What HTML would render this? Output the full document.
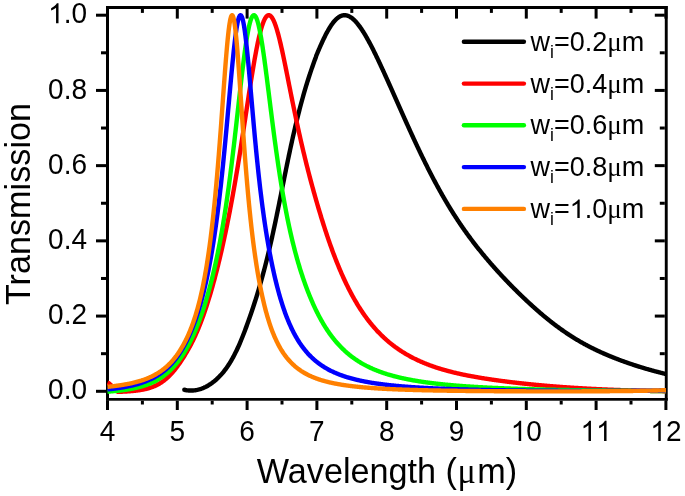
<!DOCTYPE html>
<html><head><meta charset="utf-8"><style>
html,body{margin:0;padding:0;background:#fff;}
svg{display:block;font-family:"Liberation Sans",sans-serif;will-change:transform;}
</style></head><body>
<svg width="685" height="496" viewBox="0 0 685 496">
<rect width="685" height="496" fill="#fff"/>
<defs><clipPath id="c"><rect x="107" y="9" width="559.5" height="389"/></clipPath></defs>
<g fill="#000">
<rect x="106.00" y="6.00" width="3.00" height="394.70"/><rect x="664.80" y="6.00" width="2.90" height="394.70"/><rect x="106.00" y="6.00" width="561.70" height="3.00"/><rect x="106.00" y="398.00" width="561.70" height="2.70"/>
<rect x="106.00" y="400.70" width="3.00" height="9.30"/><rect x="106.00" y="9.00" width="3.00" height="9.60"/><rect x="140.90" y="400.70" width="3.00" height="3.80"/><rect x="140.90" y="9.00" width="3.00" height="3.90"/><rect x="175.80" y="400.70" width="3.00" height="9.30"/><rect x="175.80" y="9.00" width="3.00" height="9.60"/><rect x="210.70" y="400.70" width="3.00" height="3.80"/><rect x="210.70" y="9.00" width="3.00" height="3.90"/><rect x="245.60" y="400.70" width="3.00" height="9.30"/><rect x="245.60" y="9.00" width="3.00" height="9.60"/><rect x="280.50" y="400.70" width="3.00" height="3.80"/><rect x="280.50" y="9.00" width="3.00" height="3.90"/><rect x="315.40" y="400.70" width="3.00" height="9.30"/><rect x="315.40" y="9.00" width="3.00" height="9.60"/><rect x="350.30" y="400.70" width="3.00" height="3.80"/><rect x="350.30" y="9.00" width="3.00" height="3.90"/><rect x="385.20" y="400.70" width="3.00" height="9.30"/><rect x="385.20" y="9.00" width="3.00" height="9.60"/><rect x="420.10" y="400.70" width="3.00" height="3.80"/><rect x="420.10" y="9.00" width="3.00" height="3.90"/><rect x="455.00" y="400.70" width="3.00" height="9.30"/><rect x="455.00" y="9.00" width="3.00" height="9.60"/><rect x="489.90" y="400.70" width="3.00" height="3.80"/><rect x="489.90" y="9.00" width="3.00" height="3.90"/><rect x="524.80" y="400.70" width="3.00" height="9.30"/><rect x="524.80" y="9.00" width="3.00" height="9.60"/><rect x="559.70" y="400.70" width="3.00" height="3.80"/><rect x="559.70" y="9.00" width="3.00" height="3.90"/><rect x="594.60" y="400.70" width="3.00" height="9.30"/><rect x="594.60" y="9.00" width="3.00" height="9.60"/><rect x="629.50" y="400.70" width="3.00" height="3.80"/><rect x="629.50" y="9.00" width="3.00" height="3.90"/><rect x="664.40" y="400.70" width="3.00" height="9.30"/><rect x="664.40" y="9.00" width="3.00" height="9.60"/><rect x="96.00" y="389.80" width="10.00" height="3.00"/><rect x="654.80" y="389.80" width="10.00" height="3.00"/><rect x="101.00" y="352.19" width="5.00" height="3.00"/><rect x="659.80" y="352.19" width="5.00" height="3.00"/><rect x="96.00" y="314.58" width="10.00" height="3.00"/><rect x="654.80" y="314.58" width="10.00" height="3.00"/><rect x="101.00" y="276.97" width="5.00" height="3.00"/><rect x="659.80" y="276.97" width="5.00" height="3.00"/><rect x="96.00" y="239.36" width="10.00" height="3.00"/><rect x="654.80" y="239.36" width="10.00" height="3.00"/><rect x="101.00" y="201.75" width="5.00" height="3.00"/><rect x="659.80" y="201.75" width="5.00" height="3.00"/><rect x="96.00" y="164.14" width="10.00" height="3.00"/><rect x="654.80" y="164.14" width="10.00" height="3.00"/><rect x="101.00" y="126.53" width="5.00" height="3.00"/><rect x="659.80" y="126.53" width="5.00" height="3.00"/><rect x="96.00" y="88.92" width="10.00" height="3.00"/><rect x="654.80" y="88.92" width="10.00" height="3.00"/><rect x="101.00" y="51.31" width="5.00" height="3.00"/><rect x="659.80" y="51.31" width="5.00" height="3.00"/><rect x="96.00" y="13.70" width="10.00" height="3.00"/><rect x="654.80" y="13.70" width="10.00" height="3.00"/>
</g>
<g clip-path="url(#c)"><path fill="none" stroke="#000000" stroke-width="4.4" stroke-linejoin="round" stroke-linecap="butt" d="M184.32,389.80 L185.45,390.03 L186.57,390.20 L187.67,390.34 L188.77,390.44 L189.85,390.50 L190.92,390.52 L191.98,390.50 L193.03,390.45 L194.06,390.36 L195.09,390.24 L196.10,390.08 L197.10,389.89 L198.09,389.67 L199.07,389.42 L200.04,389.14 L200.99,388.84 L201.94,388.50 L202.87,388.14 L203.79,387.76 L204.70,387.34 L205.60,386.91 L206.48,386.45 L207.36,385.98 L208.22,385.48 L209.07,384.96 L209.91,384.42 L210.74,383.87 L211.56,383.30 L212.36,382.71 L213.15,382.11 L213.94,381.50 L214.71,380.87 L215.47,380.23 L216.22,379.57 L216.96,378.90 L217.69,378.22 L218.41,377.52 L219.11,376.81 L219.81,376.09 L220.50,375.36 L221.18,374.61 L221.85,373.86 L222.51,373.09 L223.16,372.31 L223.80,371.52 L224.43,370.72 L225.05,369.91 L225.67,369.08 L226.27,368.25 L226.87,367.41 L227.46,366.56 L228.04,365.70 L228.61,364.84 L229.18,363.96 L229.73,363.07 L230.28,362.18 L230.83,361.28 L231.36,360.37 L231.89,359.46 L232.41,358.53 L232.92,357.61 L233.43,356.67 L233.93,355.73 L234.43,354.78 L234.91,353.83 L235.40,352.87 L235.87,351.90 L236.34,350.93 L236.81,349.96 L237.27,348.98 L237.72,348.00 L238.17,347.01 L238.61,346.03 L239.05,345.03 L239.49,344.04 L239.92,343.04 L240.34,342.03 L240.76,341.03 L241.18,340.02 L241.59,339.02 L242.00,338.01 L242.41,337.00 L242.81,335.98 L243.20,334.97 L243.60,333.96 L243.99,332.95 L244.38,331.93 L244.77,330.92 L245.15,329.91 L245.53,328.89 L245.91,327.88 L246.28,326.87 L246.66,325.86 L247.03,324.85 L247.40,323.84 L247.76,322.84 L248.12,321.83 L248.49,320.82 L248.84,319.82 L249.20,318.81 L249.55,317.81 L249.91,316.80 L250.25,315.80 L250.60,314.79 L250.95,313.79 L251.29,312.79 L251.63,311.79 L251.97,310.79 L252.30,309.79 L252.64,308.78 L252.97,307.78 L253.30,306.78 L253.62,305.79 L253.95,304.79 L254.27,303.79 L254.59,302.79 L254.91,301.79 L255.23,300.79 L255.54,299.80 L255.86,298.80 L256.17,297.80 L256.48,296.81 L256.78,295.81 L257.09,294.81 L257.39,293.82 L257.69,292.82 L257.99,291.83 L258.29,290.83 L258.59,289.84 L258.88,288.84 L259.17,287.85 L259.46,286.85 L259.75,285.86 L260.04,284.86 L260.32,283.87 L260.61,282.87 L260.89,281.88 L261.17,280.88 L261.45,279.89 L261.72,278.89 L262.00,277.90 L262.27,276.90 L262.55,275.91 L262.82,274.92 L263.08,273.92 L263.35,272.92 L263.62,271.93 L263.88,270.93 L264.15,269.94 L264.41,268.94 L264.67,267.95 L264.93,266.95 L265.18,265.95 L265.44,264.96 L265.69,263.96 L265.95,262.96 L266.20,261.97 L266.45,260.97 L266.70,259.97 L266.95,258.97 L267.20,257.97 L267.44,256.98 L267.69,255.98 L267.93,254.98 L268.17,253.98 L268.41,252.98 L268.65,251.97 L268.89,250.97 L269.13,249.97 L269.37,248.97 L269.60,247.97 L269.84,246.96 L270.07,245.96 L270.30,244.95 L270.53,243.95 L270.76,242.94 L270.99,241.94 L271.22,240.93 L271.45,239.92 L271.68,238.92 L271.90,237.91 L272.13,236.90 L272.35,235.89 L272.58,234.88 L272.80,233.87 L273.02,232.86 L273.24,231.84 L273.46,230.83 L273.68,229.82 L273.90,228.80 L274.12,227.79 L274.34,226.78 L274.55,225.76 L274.77,224.74 L274.99,223.73 L275.20,222.71 L275.41,221.69 L275.63,220.68 L275.84,219.66 L276.06,218.64 L276.27,217.62 L276.48,216.60 L276.69,215.58 L276.90,214.56 L277.11,213.54 L277.32,212.52 L277.53,211.50 L277.74,210.48 L277.95,209.46 L278.16,208.43 L278.37,207.41 L278.58,206.39 L278.78,205.36 L278.99,204.34 L279.20,203.32 L279.40,202.29 L279.61,201.27 L279.82,200.24 L280.02,199.22 L280.23,198.19 L280.44,197.17 L280.64,196.14 L280.85,195.12 L281.05,194.09 L281.26,193.06 L281.47,192.04 L281.67,191.01 L281.88,189.98 L282.08,188.96 L282.29,187.93 L282.49,186.90 L282.70,185.87 L282.91,184.85 L283.11,183.82 L283.32,182.79 L283.52,181.76 L283.73,180.73 L283.94,179.71 L284.14,178.68 L284.35,177.65 L284.56,176.62 L284.76,175.59 L284.97,174.56 L285.18,173.53 L285.39,172.51 L285.60,171.48 L285.81,170.45 L286.02,169.42 L286.22,168.39 L286.44,167.36 L286.65,166.33 L286.86,165.31 L287.07,164.28 L287.28,163.25 L287.49,162.22 L287.70,161.19 L287.92,160.16 L288.13,159.14 L288.35,158.11 L288.56,157.08 L288.78,156.05 L288.99,155.02 L289.21,154.00 L289.43,152.97 L289.64,151.94 L289.86,150.92 L290.08,149.89 L290.30,148.86 L290.52,147.84 L290.75,146.81 L290.97,145.78 L291.19,144.76 L291.42,143.73 L291.64,142.71 L291.87,141.68 L292.09,140.66 L292.32,139.63 L292.55,138.61 L292.78,137.58 L293.01,136.56 L293.24,135.54 L293.47,134.51 L293.71,133.49 L293.94,132.47 L294.18,131.45 L294.41,130.43 L294.65,129.40 L294.89,128.38 L295.13,127.36 L295.37,126.34 L295.61,125.32 L295.85,124.30 L296.10,123.28 L296.34,122.27 L296.59,121.25 L296.84,120.23 L297.09,119.21 L297.34,118.20 L297.59,117.18 L297.84,116.16 L298.10,115.15 L298.35,114.13 L298.61,113.12 L298.87,112.11 L299.13,111.09 L299.39,110.08 L299.65,109.07 L299.91,108.06 L300.18,107.05 L300.45,106.03 L300.72,105.02 L300.99,104.02 L301.26,103.01 L301.53,102.00 L301.81,100.99 L302.08,99.98 L302.36,98.98 L302.64,97.97 L302.92,96.97 L303.21,95.96 L303.49,94.96 L303.78,93.96 L304.06,92.96 L304.35,91.95 L304.65,90.95 L304.94,89.95 L305.23,88.95 L305.53,87.95 L305.83,86.96 L306.13,85.96 L306.43,84.96 L306.74,83.97 L307.05,82.97 L307.35,81.98 L307.66,80.99 L307.98,79.99 L308.29,79.00 L308.61,78.01 L308.93,77.02 L309.25,76.03 L309.57,75.04 L309.89,74.06 L310.22,73.07 L310.55,72.09 L310.88,71.10 L311.21,70.12 L311.55,69.13 L311.89,68.15 L312.23,67.17 L312.57,66.19 L312.91,65.21 L313.26,64.23 L313.61,63.26 L313.96,62.28 L314.31,61.31 L314.67,60.33 L315.03,59.36 L315.39,58.39 L315.75,57.42 L316.21,55.88 L316.60,54.94 L316.99,54.00 L317.37,53.07 L317.76,52.15 L318.15,51.23 L318.54,50.31 L318.93,49.40 L319.32,48.50 L319.71,47.60 L320.10,46.71 L320.48,45.83 L320.87,44.95 L321.26,44.09 L321.65,43.23 L322.04,42.37 L322.43,41.53 L322.82,40.69 L323.20,39.87 L323.59,39.05 L323.98,38.24 L324.37,37.44 L324.76,36.66 L325.15,35.88 L325.54,35.11 L325.92,34.36 L326.31,33.61 L326.70,32.88 L327.09,32.16 L327.48,31.45 L327.87,30.76 L328.26,30.07 L328.65,29.40 L329.03,28.74 L329.42,28.10 L329.81,27.47 L330.20,26.85 L330.59,26.25 L330.98,25.66 L331.37,25.08 L331.75,24.52 L332.14,23.98 L332.53,23.45 L332.92,22.93 L333.31,22.43 L333.70,21.95 L334.09,21.48 L334.48,21.03 L334.86,20.59 L335.25,20.18 L335.64,19.77 L336.03,19.39 L336.42,19.02 L336.81,18.66 L337.20,18.33 L337.58,18.01 L337.97,17.70 L338.36,17.42 L338.75,17.15 L339.14,16.90 L339.53,16.66 L339.92,16.45 L340.31,16.25 L340.69,16.07 L341.08,15.90 L341.47,15.75 L341.86,15.62 L342.25,15.51 L342.64,15.42 L343.03,15.34 L343.41,15.28 L343.80,15.24 L344.19,15.21 L344.58,15.20 L344.97,15.21 L345.36,15.23 L345.75,15.27 L346.14,15.33 L346.52,15.41 L346.91,15.50 L347.30,15.61 L347.69,15.73 L348.08,15.87 L348.47,16.03 L348.86,16.20 L349.24,16.39 L349.63,16.59 L350.02,16.81 L350.41,17.04 L350.80,17.29 L351.19,17.55 L351.58,17.83 L351.96,18.12 L352.35,18.43 L352.74,18.75 L353.13,19.08 L353.52,19.43 L353.91,19.79 L354.30,20.16 L354.69,20.55 L355.07,20.94 L355.46,21.35 L355.85,21.78 L356.24,22.21 L356.63,22.65 L357.02,23.11 L357.41,23.58 L357.79,24.06 L358.18,24.55 L358.57,25.05 L358.96,25.56 L359.35,26.08 L359.74,26.61 L360.13,27.15 L360.52,27.70 L360.90,28.26 L361.29,28.83 L361.68,29.41 L362.07,30.00 L362.46,30.59 L362.85,31.20 L363.24,31.81 L363.62,32.43 L364.01,33.06 L364.40,33.70 L364.79,34.34 L365.18,34.99 L365.57,35.65 L365.96,36.32 L366.35,36.99 L366.73,37.67 L367.12,38.36 L367.51,39.05 L367.90,39.75 L368.29,40.45 L368.68,41.16 L369.07,41.88 L369.45,42.60 L369.84,43.33 L370.23,44.07 L370.62,44.80 L371.01,45.55 L371.40,46.30 L371.79,47.05 L372.18,47.81 L372.56,48.57 L372.95,49.34 L373.34,50.11 L373.73,50.89 L374.12,51.67 L374.51,52.45 L374.90,53.24 L375.28,54.03 L375.67,54.83 L376.06,55.63 L376.45,56.43 L376.84,57.24 L377.23,58.04 L377.62,58.86 L378.01,59.67 L378.39,60.49 L378.78,61.31 L379.17,62.13 L379.56,62.96 L379.95,63.79 L380.34,64.62 L380.73,65.45 L381.11,66.29 L381.50,67.13 L381.89,67.97 L382.28,68.81 L382.67,69.65 L383.06,70.50 L383.45,71.35 L383.83,72.20 L384.22,73.05 L384.61,73.90 L385.00,74.75 L385.39,75.61 L385.78,76.47 L386.17,77.32 L386.56,78.18 L386.94,79.04 L387.33,79.91 L387.72,80.77 L388.11,81.63 L388.50,82.50 L388.89,83.37 L389.28,84.23 L389.66,85.10 L390.05,85.97 L390.44,86.84 L390.83,87.71 L391.22,88.58 L391.61,89.45 L392.00,90.32 L392.39,91.19 L392.77,92.06 L393.16,92.94 L393.55,93.81 L393.94,94.68 L394.33,95.56 L394.72,96.43 L395.11,97.31 L395.49,98.18 L395.88,99.06 L396.27,99.93 L396.66,100.81 L397.05,101.68 L397.44,102.56 L397.83,103.43 L398.22,104.31 L398.60,105.18 L398.99,106.06 L399.38,106.93 L399.77,107.81 L400.16,108.68 L400.55,109.56 L400.94,110.43 L401.32,111.31 L401.71,112.18 L402.10,113.05 L402.49,113.92 L402.88,114.80 L403.27,115.67 L403.66,116.54 L404.05,117.41 L404.43,118.28 L404.82,119.15 L405.21,120.01 L405.60,120.88 L405.99,121.75 L406.38,122.61 L406.77,123.48 L407.15,124.34 L407.54,125.20 L407.93,126.06 L408.32,126.92 L408.71,127.78 L409.10,128.64 L409.49,129.50 L409.87,130.35 L410.26,131.21 L410.65,132.06 L411.04,132.91 L411.43,133.76 L411.82,134.61 L412.21,135.46 L412.60,136.30 L412.98,137.15 L413.37,137.99 L413.76,138.83 L414.15,139.67 L414.54,140.51 L414.93,141.34 L415.32,142.18 L415.70,143.01 L416.09,143.84 L416.48,144.67 L416.87,145.50 L417.26,146.33 L417.65,147.15 L418.04,147.97 L418.43,148.79 L418.81,149.61 L419.20,150.43 L419.59,151.24 L419.98,152.06 L420.37,152.87 L420.76,153.68 L421.15,154.49 L421.53,155.29 L421.92,156.09 L422.31,156.89 L422.70,157.69 L423.09,158.49 L423.48,159.29 L423.87,160.08 L424.26,160.87 L424.64,161.66 L425.03,162.44 L425.42,163.23 L425.81,164.01 L426.20,164.79 L426.59,165.57 L426.98,166.34 L427.36,167.12 L427.75,167.89 L428.14,168.66 L428.53,169.42 L428.92,170.19 L429.31,170.95 L429.70,171.71 L430.09,172.47 L430.47,173.22 L430.86,173.98 L431.25,174.73 L431.64,175.48 L432.03,176.22 L432.42,176.97 L432.81,177.71 L433.19,178.45 L433.58,179.18 L433.97,179.92 L434.36,180.65 L434.75,181.38 L435.14,182.11 L435.53,182.83 L435.91,183.55 L436.30,184.28 L436.69,184.99 L437.08,185.71 L437.47,186.42 L437.86,187.13 L438.25,187.84 L438.64,188.55 L439.02,189.25 L439.41,189.95 L439.80,190.65 L440.19,191.35 L440.58,192.04 L440.97,192.73 L441.36,193.42 L441.74,194.11 L442.13,194.79 L442.52,195.47 L442.91,196.15 L443.30,196.83 L443.69,197.51 L444.08,198.18 L444.47,198.85 L444.85,199.51 L445.24,200.18 L445.63,200.84 L446.02,201.50 L446.41,202.16 L446.80,202.82 L447.19,203.47 L447.57,204.12 L447.96,204.77 L448.35,205.41 L448.74,206.06 L449.13,206.70 L449.52,207.34 L449.91,207.97 L450.30,208.61 L450.68,209.24 L451.07,209.87 L451.46,210.50 L451.85,211.12 L452.24,211.74 L452.63,212.36 L453.02,212.98 L453.40,213.59 L453.79,214.21 L454.18,214.82 L454.57,215.43 L454.96,216.03 L455.35,216.63 L455.74,217.24 L456.13,217.83 L456.51,218.43 L456.90,219.03 L457.29,219.62 L457.68,220.21 L458.07,220.79 L458.46,221.38 L458.85,221.96 L459.23,222.54 L459.62,223.12 L460.01,223.70 L460.40,224.27 L460.79,224.84 L461.18,225.41 L461.57,225.98 L461.95,226.54 L462.34,227.10 L462.73,227.67 L463.12,228.22 L463.51,228.78 L463.90,229.33 L464.29,229.89 L464.68,230.44 L465.06,230.98 L465.45,231.53 L465.84,232.07 L466.23,232.62 L466.62,233.16 L467.01,233.70 L467.40,234.23 L467.78,234.77 L468.17,235.30 L468.56,235.83 L468.95,236.36 L469.34,236.88 L469.73,237.41 L470.12,237.93 L470.51,238.45 L470.89,238.97 L471.28,239.49 L471.67,240.01 L472.06,240.52 L472.45,241.04 L472.84,241.55 L473.23,242.06 L473.61,242.56 L474.00,243.07 L474.39,243.58 L474.78,244.08 L475.17,244.58 L475.56,245.08 L475.95,245.58 L476.34,246.07 L476.72,246.57 L477.11,247.06 L477.50,247.56 L477.89,248.05 L478.28,248.53 L478.67,249.02 L479.06,249.51 L479.44,249.99 L479.83,250.48 L480.22,250.96 L480.61,251.44 L481.00,251.92 L481.39,252.40 L481.78,252.87 L482.17,253.35 L482.55,253.82 L482.94,254.29 L483.33,254.76 L483.72,255.23 L484.11,255.70 L484.50,256.17 L484.89,256.63 L485.27,257.10 L485.66,257.56 L486.05,258.02 L486.44,258.48 L486.83,258.94 L487.22,259.40 L487.61,259.86 L487.99,260.31 L488.38,260.77 L488.77,261.22 L489.16,261.67 L489.55,262.12 L489.94,262.57 L490.33,263.02 L490.72,263.47 L491.10,263.92 L491.49,264.36 L491.88,264.80 L492.27,265.25 L492.66,265.69 L493.05,266.13 L493.44,266.57 L493.82,267.01 L494.21,267.45 L494.60,267.88 L494.99,268.32 L495.38,268.75 L495.77,269.19 L496.16,269.62 L496.55,270.05 L496.93,270.48 L497.32,270.91 L497.71,271.34 L498.10,271.76 L498.49,272.19 L498.88,272.62 L499.27,273.04 L499.65,273.46 L500.04,273.89 L500.43,274.31 L500.82,274.73 L501.21,275.15 L501.60,275.57 L501.99,275.98 L502.38,276.40 L502.76,276.82 L503.15,277.23 L503.54,277.64 L503.93,278.06 L504.32,278.47 L504.71,278.88 L505.10,279.29 L505.48,279.70 L505.87,280.11 L506.26,280.51 L506.65,280.92 L507.04,281.33 L507.43,281.73 L507.82,282.14 L508.21,282.54 L508.59,282.94 L508.98,283.34 L509.37,283.74 L509.76,284.14 L510.15,284.54 L510.54,284.94 L510.93,285.34 L511.31,285.73 L511.70,286.13 L512.09,286.52 L512.48,286.92 L512.87,287.31 L513.26,287.70 L513.65,288.09 L514.04,288.48 L514.42,288.87 L514.81,289.26 L515.20,289.65 L515.59,290.03 L515.98,290.42 L516.37,290.81 L516.76,291.19 L517.14,291.57 L517.53,291.96 L517.92,292.34 L518.31,292.72 L518.70,293.10 L519.09,293.48 L519.48,293.86 L519.86,294.24 L520.25,294.62 L520.64,294.99 L521.03,295.37 L521.42,295.74 L521.81,296.12 L522.20,296.49 L522.59,296.86 L522.97,297.23 L523.36,297.61 L523.75,297.98 L524.14,298.35 L524.53,298.71 L524.92,299.08 L525.31,299.45 L525.69,299.81 L526.08,300.18 L526.47,300.54 L526.86,300.91 L527.25,301.27 L527.64,301.63 L528.03,302.00 L528.42,302.36 L528.80,302.72 L529.19,303.07 L529.58,303.43 L529.97,303.79 L530.36,304.15 L530.75,304.50 L531.14,304.86 L531.52,305.21 L531.91,305.57 L532.30,305.92 L532.69,306.27 L533.08,306.62 L533.47,306.97 L533.86,307.32 L534.25,307.67 L534.63,308.02 L535.02,308.36 L535.41,308.71 L535.80,309.05 L536.19,309.40 L536.58,309.74 L536.97,310.08 L537.35,310.42 L537.74,310.76 L538.13,311.10 L538.52,311.44 L538.91,311.78 L539.30,312.12 L539.69,312.45 L540.08,312.79 L540.46,313.12 L540.85,313.45 L541.24,313.78 L541.63,314.11 L542.02,314.44 L542.41,314.77 L542.80,315.10 L543.18,315.43 L543.57,315.75 L543.96,316.08 L544.35,316.40 L544.74,316.72 L545.13,317.04 L545.52,317.36 L545.90,317.68 L546.29,318.00 L546.68,318.32 L547.07,318.64 L547.46,318.95 L547.85,319.27 L548.24,319.58 L548.63,319.89 L549.01,320.20 L549.40,320.51 L549.79,320.82 L550.18,321.13 L550.57,321.44 L550.96,321.74 L551.35,322.05 L551.73,322.35 L552.12,322.65 L552.51,322.95 L552.90,323.25 L553.29,323.55 L553.68,323.85 L554.07,324.15 L554.46,324.45 L554.84,324.74 L555.23,325.03 L555.62,325.33 L556.01,325.62 L556.40,325.91 L556.79,326.20 L557.18,326.49 L557.56,326.77 L557.95,327.06 L558.34,327.35 L558.73,327.63 L559.12,327.91 L559.51,328.19 L559.90,328.48 L560.29,328.76 L560.67,329.03 L561.06,329.31 L561.45,329.59 L561.84,329.86 L562.23,330.14 L562.62,330.41 L563.01,330.68 L563.39,330.95 L563.78,331.22 L564.17,331.49 L564.56,331.76 L564.95,332.03 L565.34,332.29 L565.73,332.56 L566.12,332.82 L566.50,333.08 L566.89,333.34 L567.28,333.60 L567.67,333.86 L568.06,334.12 L568.45,334.38 L568.84,334.63 L569.22,334.89 L569.61,335.14 L570.00,335.39 L570.39,335.64 L570.78,335.90 L571.17,336.14 L571.56,336.39 L571.94,336.64 L572.33,336.89 L572.72,337.13 L573.11,337.37 L573.50,337.62 L573.89,337.86 L574.28,338.10 L574.67,338.34 L575.05,338.58 L575.44,338.82 L575.83,339.05 L576.22,339.29 L576.61,339.52 L577.00,339.76 L577.39,339.99 L577.77,340.22 L578.16,340.45 L578.55,340.68 L578.94,340.91 L579.33,341.14 L579.72,341.36 L580.11,341.59 L580.50,341.81 L580.88,342.03 L581.27,342.26 L581.66,342.48 L582.05,342.70 L582.44,342.92 L582.83,343.14 L583.22,343.35 L583.60,343.57 L583.99,343.78 L584.38,344.00 L584.77,344.21 L585.16,344.42 L585.55,344.63 L585.94,344.84 L586.33,345.05 L586.71,345.26 L587.10,345.47 L587.49,345.68 L587.88,345.88 L588.27,346.09 L588.66,346.29 L589.05,346.49 L589.43,346.69 L589.82,346.89 L590.21,347.09 L590.60,347.29 L590.99,347.49 L591.38,347.69 L591.77,347.88 L592.16,348.08 L592.54,348.27 L592.93,348.46 L593.32,348.66 L593.71,348.85 L594.10,349.04 L594.49,349.23 L594.88,349.42 L595.26,349.61 L595.65,349.79 L596.04,349.98 L596.43,350.16 L596.82,350.35 L597.21,350.53 L597.60,350.72 L597.98,350.90 L598.37,351.08 L598.76,351.26 L599.15,351.44 L599.54,351.62 L599.93,351.80 L600.32,351.97 L600.71,352.15 L601.09,352.33 L601.48,352.50 L601.87,352.68 L602.26,352.85 L602.65,353.02 L603.04,353.20 L603.43,353.37 L603.81,353.54 L604.20,353.71 L604.59,353.88 L604.98,354.05 L605.37,354.22 L605.76,354.38 L606.15,354.55 L606.54,354.72 L606.92,354.88 L607.31,355.05 L607.70,355.21 L608.09,355.38 L608.48,355.54 L608.87,355.70 L609.26,355.86 L609.64,356.02 L610.03,356.18 L610.42,356.34 L610.81,356.50 L611.20,356.66 L611.59,356.82 L611.98,356.98 L612.37,357.13 L612.75,357.29 L613.14,357.45 L613.53,357.60 L613.92,357.76 L614.31,357.91 L614.70,358.06 L615.09,358.21 L615.47,358.37 L615.86,358.52 L616.25,358.67 L616.64,358.82 L617.03,358.97 L617.42,359.12 L617.81,359.27 L618.20,359.42 L618.58,359.56 L618.97,359.71 L619.36,359.86 L619.75,360.00 L620.14,360.15 L620.53,360.29 L620.92,360.44 L621.30,360.58 L621.69,360.72 L622.08,360.87 L622.47,361.01 L622.86,361.15 L623.25,361.29 L623.64,361.43 L624.03,361.57 L624.41,361.71 L624.80,361.85 L625.19,361.99 L625.58,362.13 L625.97,362.27 L626.36,362.40 L626.75,362.54 L627.13,362.68 L627.52,362.81 L627.91,362.95 L628.30,363.08 L628.69,363.22 L629.08,363.35 L629.47,363.48 L629.85,363.61 L630.24,363.75 L630.63,363.88 L631.02,364.01 L631.41,364.14 L631.80,364.27 L632.19,364.40 L632.58,364.53 L632.96,364.66 L633.35,364.79 L633.74,364.92 L634.13,365.04 L634.52,365.17 L634.91,365.30 L635.30,365.42 L635.68,365.55 L636.07,365.67 L636.46,365.80 L636.85,365.92 L637.24,366.05 L637.63,366.17 L638.02,366.29 L638.41,366.42 L638.79,366.54 L639.18,366.66 L639.57,366.78 L639.96,366.90 L640.35,367.02 L640.74,367.14 L641.13,367.26 L641.51,367.38 L641.90,367.50 L642.29,367.62 L642.68,367.73 L643.07,367.85 L643.46,367.97 L643.85,368.08 L644.24,368.20 L644.62,368.31 L645.01,368.43 L645.40,368.54 L645.79,368.66 L646.18,368.77 L646.57,368.89 L646.96,369.00 L647.34,369.11 L647.73,369.22 L648.12,369.33 L648.51,369.45 L648.90,369.56 L649.29,369.67 L649.68,369.78 L650.07,369.89 L650.45,369.99 L650.84,370.10 L651.23,370.21 L651.62,370.32 L652.01,370.43 L652.40,370.53 L652.79,370.64 L653.17,370.75 L653.56,370.85 L653.95,370.96 L654.34,371.06 L654.73,371.17 L655.12,371.27 L655.51,371.37 L655.89,371.48 L656.28,371.58 L656.67,371.68 L657.06,371.79 L657.45,371.89 L657.84,371.99 L658.23,372.09 L658.62,372.19 L659.00,372.29 L659.39,372.39 L659.78,372.49 L660.17,372.59 L660.56,372.69 L660.95,372.78 L661.34,372.88 L661.72,372.98 L662.11,373.08 L662.50,373.17 L662.89,373.27 L663.28,373.36 L663.67,373.46 L664.06,373.55 L664.45,373.65 L664.83,373.74 L665.22,373.84 L665.61,373.93 L666.00,374.02"/><circle cx="184.32" cy="389.80" r="2.2" fill="#000"/><path fill="none" stroke="#ff0000" stroke-width="4.4" stroke-linejoin="round" stroke-linecap="butt" d="M107.50,382.60 L107.97,382.82 L108.43,383.03 L108.90,383.25 L109.36,383.63 L109.83,384.05 L110.29,384.47 L110.76,384.88 L111.23,385.30 L111.69,385.72 L112.16,386.18 L112.62,386.73 L113.09,387.27 L113.56,387.81 L114.02,388.36 L114.49,388.90 L114.95,389.45 L115.42,389.83 L115.88,390.19 L116.35,390.56 L116.82,390.93 L117.28,391.29 L117.75,391.66 L118.21,391.86 L118.68,391.84 L119.15,391.82 L119.61,391.81 L120.08,391.79 L120.54,391.77 L121.01,391.75 L121.47,391.73 L121.94,391.71 L122.41,391.69 L122.87,391.67 L123.34,391.65 L123.80,391.62 L124.27,391.60 L124.73,391.58 L125.20,391.55 L125.67,391.52 L126.13,391.50 L126.60,391.47 L127.06,391.44 L127.53,391.41 L128.00,391.38 L128.46,391.35 L128.93,391.31 L129.39,391.28 L129.86,391.25 L130.32,391.21 L130.79,391.17 L131.26,391.13 L131.72,391.09 L132.19,391.05 L132.65,391.01 L133.12,390.96 L133.59,390.92 L134.05,390.87 L134.52,390.82 L134.98,390.77 L135.45,390.72 L135.91,390.67 L136.38,390.61 L136.85,390.55 L137.31,390.49 L137.78,390.43 L138.24,390.37 L138.71,390.30 L139.17,390.23 L139.64,390.16 L140.11,390.09 L140.57,390.02 L141.04,389.94 L141.50,389.86 L141.97,389.77 L142.44,389.69 L142.90,389.60 L143.37,389.51 L143.83,389.41 L144.30,389.31 L144.76,389.21 L145.23,389.11 L145.70,389.00 L146.16,388.89 L146.63,388.77 L147.09,388.65 L147.56,388.53 L148.03,388.40 L148.49,388.27 L148.96,388.13 L149.42,387.99 L149.89,387.85 L150.35,387.70 L150.82,387.54 L151.29,387.38 L151.75,387.22 L152.22,387.05 L152.68,386.87 L153.15,386.69 L153.61,386.51 L154.08,386.31 L154.55,386.11 L155.01,385.91 L155.48,385.70 L155.94,385.48 L156.41,385.25 L156.88,385.02 L157.34,384.79 L157.81,384.54 L158.27,384.29 L158.74,384.03 L159.20,383.76 L159.67,383.49 L160.14,383.20 L160.60,382.91 L161.07,382.61 L161.53,382.31 L162.00,381.99 L162.46,381.67 L162.93,381.33 L163.40,380.99 L163.86,380.64 L164.33,380.28 L164.79,379.91 L165.26,379.54 L165.73,379.15 L166.19,378.75 L166.66,378.35 L167.12,377.93 L167.59,377.51 L168.05,377.07 L168.52,376.63 L168.99,376.18 L169.45,375.71 L169.92,375.24 L170.38,374.76 L170.85,374.26 L171.32,373.76 L171.78,373.25 L172.25,372.73 L172.71,372.20 L173.18,371.66 L173.64,371.11 L174.11,370.55 L174.58,369.98 L175.04,369.40 L175.51,368.81 L175.97,368.21 L176.44,367.61 L176.90,366.99 L177.37,366.37 L177.84,365.73 L178.30,365.09 L178.77,364.44 L179.23,363.78 L179.70,363.12 L180.17,362.44 L180.63,361.76 L181.10,361.06 L181.56,360.36 L182.03,359.66 L182.49,358.94 L182.96,358.21 L183.43,357.48 L183.89,356.74 L184.36,355.99 L184.82,355.24 L185.29,354.47 L185.76,353.70 L186.22,352.92 L186.69,352.13 L187.15,351.33 L187.62,350.52 L188.08,349.70 L188.55,348.88 L189.02,348.04 L189.48,347.20 L189.95,346.34 L190.41,345.47 L190.88,344.59 L191.34,343.70 L191.81,342.79 L192.28,341.87 L192.74,340.94 L193.21,339.99 L193.67,339.02 L194.14,338.05 L194.61,337.05 L195.07,336.04 L195.54,335.02 L196.00,333.98 L196.47,332.92 L196.93,331.85 L197.40,330.77 L197.87,329.66 L198.33,328.54 L198.80,327.41 L199.26,326.26 L199.73,325.09 L200.20,323.91 L200.66,322.71 L201.13,321.49 L201.59,320.25 L202.06,319.00 L202.52,317.74 L202.99,316.45 L203.46,315.15 L203.92,313.83 L204.39,312.49 L204.85,311.14 L205.32,309.77 L205.78,308.38 L206.25,306.97 L206.72,305.55 L207.18,304.11 L207.65,302.65 L208.11,301.17 L208.58,299.67 L209.05,298.16 L209.51,296.63 L209.98,295.08 L210.44,293.51 L210.91,291.92 L211.37,290.32 L211.84,288.70 L212.31,287.05 L212.77,285.39 L213.24,283.71 L213.70,282.02 L214.17,280.30 L214.64,278.56 L215.10,276.81 L215.57,275.04 L216.03,273.24 L216.50,271.43 L216.96,269.60 L217.43,267.75 L217.90,265.88 L218.36,263.99 L218.83,262.08 L219.29,260.15 L219.76,258.20 L220.22,256.23 L220.69,254.24 L221.16,252.24 L221.62,250.21 L222.09,248.16 L222.55,246.09 L223.02,243.99 L223.49,241.88 L223.95,239.75 L224.42,237.60 L224.88,235.42 L225.35,233.23 L225.81,231.01 L226.28,228.77 L226.75,226.51 L227.21,224.22 L227.68,221.92 L228.14,219.59 L228.61,217.24 L229.08,214.87 L229.54,212.47 L230.01,210.05 L230.47,207.61 L230.94,205.15 L231.40,202.66 L231.87,200.15 L232.34,197.61 L232.80,195.05 L233.27,192.47 L233.73,189.86 L234.20,187.23 L234.66,184.58 L235.13,181.90 L235.60,179.20 L236.06,176.47 L236.53,173.72 L236.99,170.94 L237.46,168.14 L237.93,165.31 L238.39,162.46 L238.86,159.59 L239.32,156.70 L239.79,153.78 L240.25,150.85 L240.72,147.90 L241.19,144.92 L241.65,141.94 L242.12,138.93 L242.58,135.91 L243.05,132.88 L243.52,129.84 L243.98,126.79 L244.45,123.74 L244.91,120.67 L245.38,117.61 L245.84,114.54 L246.31,111.47 L246.78,108.40 L247.24,105.34 L247.71,102.28 L248.17,99.23 L248.64,96.20 L249.10,93.17 L249.57,90.17 L250.04,87.18 L250.50,84.21 L250.97,81.27 L251.43,78.36 L251.90,75.48 L252.37,72.62 L252.83,69.81 L253.30,67.03 L253.76,64.30 L254.23,61.61 L254.69,58.97 L255.16,56.38 L255.63,53.84 L256.09,51.36 L256.56,48.94 L257.02,46.58 L257.49,44.29 L257.95,42.07 L258.42,39.92 L258.89,37.84 L259.35,35.84 L259.82,33.92 L260.28,32.09 L260.75,30.33 L261.22,28.67 L261.68,27.09 L262.15,25.61 L262.61,24.22 L263.08,22.92 L263.54,21.72 L264.01,20.62 L264.48,19.61 L264.94,18.71 L265.41,17.91 L265.87,17.21 L266.34,16.62 L266.81,16.13 L267.27,15.74 L267.74,15.46 L268.20,15.28 L268.67,15.20 L269.13,15.23 L269.60,15.36 L270.07,15.59 L270.53,15.93 L271.00,16.36 L271.46,16.89 L271.93,17.51 L272.39,18.23 L272.86,19.05 L273.33,19.95 L273.79,20.94 L274.26,22.02 L274.72,23.18 L275.19,24.43 L275.66,25.75 L276.12,27.14 L276.59,28.61 L277.05,30.15 L277.52,31.76 L277.98,33.43 L278.45,35.16 L278.92,36.95 L279.38,38.79 L279.85,40.69 L280.31,42.63 L280.78,44.62 L281.25,46.66 L281.71,48.73 L282.18,50.84 L282.64,52.98 L283.11,55.16 L283.57,57.36 L284.04,59.59 L284.51,61.84 L284.97,64.11 L285.44,66.40 L285.90,68.70 L286.37,71.02 L286.83,73.34 L287.30,75.68 L287.77,78.02 L288.23,80.36 L288.70,82.71 L289.16,85.05 L289.63,87.40 L290.10,89.73 L290.56,92.07 L291.03,94.39 L291.49,96.71 L291.96,99.02 L292.42,101.32 L292.89,103.61 L293.36,105.88 L293.82,108.15 L294.29,110.40 L294.75,112.64 L295.22,114.87 L295.69,117.08 L296.15,119.28 L296.62,121.46 L297.08,123.63 L297.55,125.78 L298.01,127.92 L298.48,130.05 L298.95,132.16 L299.41,134.25 L299.88,136.33 L300.34,138.39 L300.81,140.44 L301.27,142.47 L301.74,144.49 L302.21,146.49 L302.67,148.48 L303.14,150.45 L303.60,152.41 L304.07,154.35 L304.54,156.28 L305.00,158.19 L305.47,160.09 L305.93,161.98 L306.40,163.85 L306.86,165.70 L307.33,167.55 L307.80,169.38 L308.26,171.20 L308.73,173.00 L309.19,174.79 L309.66,176.57 L310.13,178.34 L310.59,180.09 L311.06,181.83 L311.52,183.56 L311.99,185.28 L312.45,186.99 L312.92,188.69 L313.39,190.37 L313.85,192.05 L314.32,193.71 L314.78,195.37 L315.25,197.01 L315.71,198.65 L316.18,200.27 L316.65,201.89 L317.11,203.49 L317.58,205.09 L318.04,206.68 L318.51,208.26 L318.98,209.82 L319.44,211.38 L319.91,212.93 L320.37,214.47 L320.84,216.00 L321.30,217.52 L321.77,219.03 L322.24,220.53 L322.70,222.02 L323.17,223.50 L323.63,224.97 L324.10,226.43 L324.57,227.88 L325.03,229.32 L325.50,230.75 L325.96,232.16 L326.43,233.57 L326.89,234.97 L327.36,236.35 L327.83,237.73 L328.29,239.09 L328.76,240.45 L329.22,241.79 L329.69,243.12 L330.15,244.44 L330.62,245.75 L331.09,247.05 L331.55,248.34 L332.02,249.62 L332.48,250.89 L332.95,252.15 L333.42,253.40 L333.88,254.64 L334.35,255.86 L334.81,257.08 L335.28,258.28 L335.74,259.48 L336.21,260.66 L336.68,261.84 L337.14,263.00 L337.61,264.16 L338.07,265.30 L338.54,266.43 L339.01,267.56 L339.47,268.67 L339.94,269.77 L340.40,270.87 L340.87,271.95 L341.33,273.02 L341.80,274.08 L342.27,275.14 L342.73,276.18 L343.20,277.22 L343.66,278.24 L344.13,279.25 L344.59,280.26 L345.06,281.25 L345.53,282.24 L345.99,283.22 L346.46,284.19 L346.92,285.14 L347.39,286.09 L347.86,287.03 L348.32,287.96 L348.79,288.89 L349.25,289.80 L349.72,290.71 L350.18,291.60 L350.65,292.49 L351.12,293.37 L351.58,294.24 L352.05,295.10 L352.51,295.95 L352.98,296.80 L353.44,297.63 L353.91,298.46 L354.38,299.28 L354.84,300.09 L355.31,300.90 L355.77,301.69 L356.24,302.48 L356.71,303.26 L357.17,304.03 L357.64,304.80 L358.10,305.56 L358.57,306.31 L359.03,307.05 L359.50,307.78 L359.97,308.51 L360.43,309.23 L360.90,309.95 L361.36,310.65 L361.83,311.35 L362.30,312.04 L362.76,312.73 L363.23,313.41 L363.69,314.08 L364.16,314.74 L364.62,315.40 L365.09,316.05 L365.56,316.70 L366.02,317.34 L366.49,317.97 L366.95,318.60 L367.42,319.22 L367.88,319.83 L368.35,320.44 L368.82,321.04 L369.28,321.63 L369.75,322.22 L370.21,322.81 L370.68,323.39 L371.15,323.96 L371.61,324.52 L372.08,325.08 L372.54,325.64 L373.01,326.19 L373.47,326.73 L373.94,327.27 L374.41,327.80 L374.87,328.33 L375.34,328.85 L375.80,329.37 L376.27,329.88 L376.74,330.39 L377.20,330.89 L377.67,331.39 L378.13,331.88 L378.60,332.37 L379.06,332.85 L379.53,333.33 L380.00,333.80 L380.46,334.27 L380.93,334.73 L381.39,335.19 L381.86,335.65 L382.32,336.10 L382.79,336.54 L383.26,336.98 L383.72,337.42 L384.19,337.85 L384.65,338.28 L385.12,338.71 L385.59,339.13 L386.05,339.54 L386.52,339.95 L386.98,340.36 L387.45,340.76 L387.91,341.16 L388.38,341.56 L388.85,341.95 L389.31,342.34 L389.78,342.72 L390.24,343.11 L390.71,343.48 L391.18,343.86 L391.64,344.23 L392.11,344.59 L392.57,344.95 L393.04,345.31 L393.50,345.67 L393.97,346.02 L394.44,346.37 L394.90,346.72 L395.37,347.06 L395.83,347.40 L396.30,347.73 L396.76,348.06 L397.23,348.39 L397.70,348.72 L398.16,349.04 L398.63,349.36 L399.09,349.68 L399.56,349.99 L400.03,350.30 L400.49,350.61 L400.96,350.92 L401.42,351.22 L401.89,351.52 L402.35,351.82 L402.82,352.11 L403.29,352.40 L403.75,352.69 L404.22,352.97 L404.68,353.26 L405.15,353.54 L405.62,353.81 L406.08,354.09 L406.55,354.36 L407.01,354.63 L407.48,354.90 L407.94,355.16 L408.41,355.43 L408.88,355.69 L409.34,355.94 L409.81,356.20 L410.27,356.45 L410.74,356.70 L411.20,356.95 L411.67,357.20 L412.14,357.44 L412.60,357.68 L413.07,357.92 L413.53,358.16 L414.00,358.39 L414.47,358.63 L414.93,358.86 L415.40,359.09 L415.86,359.31 L416.33,359.54 L416.79,359.76 L417.26,359.98 L417.73,360.20 L418.19,360.42 L418.66,360.63 L419.12,360.84 L419.59,361.06 L420.06,361.26 L420.52,361.47 L420.99,361.68 L421.45,361.88 L421.92,362.08 L422.38,362.28 L422.85,362.48 L423.32,362.68 L423.78,362.87 L424.25,363.06 L424.71,363.26 L425.18,363.44 L425.64,363.63 L426.11,363.82 L426.58,364.00 L427.04,364.19 L427.51,364.37 L427.97,364.55 L428.44,364.73 L428.91,364.90 L429.37,365.08 L429.84,365.25 L430.30,365.42 L430.77,365.60 L431.23,365.76 L431.70,365.93 L432.17,366.10 L432.63,366.26 L433.10,366.43 L433.56,366.59 L434.03,366.75 L434.49,366.91 L434.96,367.07 L435.43,367.22 L435.89,367.38 L436.36,367.53 L436.82,367.69 L437.29,367.84 L437.76,367.99 L438.22,368.14 L438.69,368.29 L439.15,368.43 L439.62,368.58 L440.08,368.72 L440.55,368.86 L441.02,369.01 L441.48,369.15 L441.95,369.29 L442.41,369.42 L442.88,369.56 L443.35,369.70 L443.81,369.83 L444.28,369.97 L444.74,370.10 L445.21,370.23 L445.67,370.36 L446.14,370.49 L446.61,370.62 L447.07,370.75 L447.54,370.87 L448.00,371.00 L448.47,371.12 L448.93,371.25 L449.40,371.37 L449.87,371.49 L450.33,371.61 L450.80,371.73 L451.26,371.85 L451.73,371.97 L452.20,372.08 L452.66,372.20 L453.13,372.31 L453.59,372.43 L454.06,372.54 L454.52,372.65 L454.99,372.76 L455.46,372.87 L455.92,372.98 L456.39,373.09 L456.85,373.20 L457.32,373.30 L457.79,373.41 L458.25,373.52 L458.72,373.62 L459.18,373.72 L459.65,373.83 L460.11,373.93 L460.58,374.03 L461.05,374.13 L461.51,374.23 L461.98,374.33 L462.44,374.43 L462.91,374.53 L463.37,374.63 L463.84,374.72 L464.31,374.82 L464.77,374.92 L465.24,375.01 L465.70,375.10 L466.17,375.20 L466.64,375.29 L467.10,375.38 L467.57,375.47 L468.03,375.57 L468.50,375.66 L468.96,375.75 L469.43,375.84 L469.90,375.92 L470.36,376.01 L470.83,376.10 L471.29,376.19 L471.76,376.27 L472.23,376.36 L472.69,376.45 L473.16,376.53 L473.62,376.62 L474.09,376.70 L474.55,376.78 L475.02,376.87 L475.49,376.95 L475.95,377.03 L476.42,377.11 L476.88,377.19 L477.35,377.28 L477.81,377.36 L478.28,377.44 L478.75,377.51 L479.21,377.59 L479.68,377.67 L480.14,377.75 L480.61,377.83 L481.08,377.90 L481.54,377.98 L482.01,378.06 L482.47,378.13 L482.94,378.21 L483.40,378.28 L483.87,378.36 L484.34,378.43 L484.80,378.51 L485.27,378.58 L485.73,378.65 L486.20,378.73 L486.67,378.80 L487.13,378.87 L487.60,378.94 L488.06,379.01 L488.53,379.08 L488.99,379.16 L489.46,379.23 L489.93,379.30 L490.39,379.37 L490.86,379.43 L491.32,379.50 L491.79,379.57 L492.25,379.64 L492.72,379.71 L493.19,379.77 L493.65,379.84 L494.12,379.91 L494.58,379.98 L495.05,380.04 L495.52,380.11 L495.98,380.17 L496.45,380.24 L496.91,380.30 L497.38,380.37 L497.84,380.43 L498.31,380.50 L498.78,380.56 L499.24,380.62 L499.71,380.69 L500.17,380.75 L500.64,380.81 L501.11,380.87 L501.57,380.94 L502.04,381.00 L502.50,381.06 L502.97,381.12 L503.43,381.18 L503.90,381.24 L504.37,381.30 L504.83,381.36 L505.30,381.42 L505.76,381.48 L506.23,381.54 L506.69,381.60 L507.16,381.66 L507.63,381.72 L508.09,381.77 L508.56,381.83 L509.02,381.89 L509.49,381.95 L509.96,382.00 L510.42,382.06 L510.89,382.12 L511.35,382.17 L511.82,382.23 L512.28,382.29 L512.75,382.34 L513.22,382.40 L513.68,382.45 L514.15,382.51 L514.61,382.56 L515.08,382.61 L515.55,382.67 L516.01,382.72 L516.48,382.78 L516.94,382.83 L517.41,382.88 L517.87,382.94 L518.34,382.99 L518.81,383.04 L519.27,383.09 L519.74,383.15 L520.20,383.20 L520.67,383.25 L521.13,383.30 L521.60,383.35 L522.07,383.40 L522.53,383.45 L523.00,383.50 L523.46,383.55 L523.93,383.60 L524.40,383.65 L524.86,383.70 L525.33,383.75 L525.79,383.80 L526.26,383.85 L526.72,383.90 L527.19,383.95 L527.66,384.00 L528.12,384.04 L528.59,384.09 L529.05,384.14 L529.52,384.19 L529.98,384.23 L530.45,384.28 L530.92,384.33 L531.38,384.37 L531.85,384.42 L532.31,384.47 L532.78,384.51 L533.25,384.56 L533.71,384.60 L534.18,384.65 L534.64,384.69 L535.11,384.74 L535.57,384.78 L536.04,384.83 L536.51,384.87 L536.97,384.92 L537.44,384.96 L537.90,385.00 L538.37,385.05 L538.84,385.09 L539.30,385.13 L539.77,385.18 L540.23,385.22 L540.70,385.26 L541.16,385.30 L541.63,385.35 L542.10,385.39 L542.56,385.43 L543.03,385.47 L543.49,385.51 L543.96,385.55 L544.42,385.59 L544.89,385.64 L545.36,385.68 L545.82,385.72 L546.29,385.76 L546.75,385.80 L547.22,385.84 L547.69,385.88 L548.15,385.92 L548.62,385.95 L549.08,385.99 L549.55,386.03 L550.01,386.07 L550.48,386.11 L550.95,386.15 L551.41,386.19 L551.88,386.22 L552.34,386.26 L552.81,386.30 L553.28,386.34 L553.74,386.37 L554.21,386.41 L554.67,386.45 L555.14,386.48 L555.60,386.52 L556.07,386.56 L556.54,386.59 L557.00,386.63 L557.47,386.66 L557.93,386.70 L558.40,386.74 L558.86,386.77 L559.33,386.81 L559.80,386.84 L560.26,386.88 L560.73,386.91 L561.19,386.94 L561.66,386.98 L562.13,387.01 L562.59,387.05 L563.06,387.08 L563.52,387.11 L563.99,387.15 L564.45,387.18 L564.92,387.21 L565.39,387.25 L565.85,387.28 L566.32,387.31 L566.78,387.34 L567.25,387.38 L567.72,387.41 L568.18,387.44 L568.65,387.47 L569.11,387.50 L569.58,387.53 L570.04,387.56 L570.51,387.60 L570.98,387.63 L571.44,387.66 L571.91,387.69 L572.37,387.72 L572.84,387.75 L573.30,387.78 L573.77,387.81 L574.24,387.84 L574.70,387.87 L575.17,387.90 L575.63,387.93 L576.10,387.95 L576.57,387.98 L577.03,388.01 L577.50,388.04 L577.96,388.07 L578.43,388.10 L578.89,388.13 L579.36,388.15 L579.83,388.18 L580.29,388.21 L580.76,388.24 L581.22,388.26 L581.69,388.29 L582.16,388.32 L582.62,388.34 L583.09,388.37 L583.55,388.40 L584.02,388.42 L584.48,388.45 L584.95,388.48 L585.42,388.50 L585.88,388.53 L586.35,388.55 L586.81,388.58 L587.28,388.61 L587.74,388.63 L588.21,388.66 L588.68,388.68 L589.14,388.71 L589.61,388.73 L590.07,388.75 L590.54,388.78 L591.01,388.80 L591.47,388.83 L591.94,388.85 L592.40,388.87 L592.87,388.90 L593.33,388.92 L593.80,388.95 L594.27,388.97 L594.73,388.99 L595.20,389.01 L595.66,389.04 L596.13,389.06 L596.60,389.08 L597.06,389.11 L597.53,389.13 L597.99,389.15 L598.46,389.17 L598.92,389.19 L599.39,389.22 L599.86,389.24 L600.32,389.26 L600.79,389.28 L601.25,389.30 L601.72,389.32 L602.18,389.34 L602.65,389.36 L603.12,389.38 L603.58,389.41 L604.05,389.43 L604.51,389.45 L604.98,389.47 L605.45,389.49 L605.91,389.51 L606.38,389.53 L606.84,389.55 L607.31,389.57 L607.77,389.58 L608.24,389.60 L608.71,389.62 L609.17,389.64 L609.64,389.66 L610.10,389.68 L610.57,389.70 L611.04,389.72 L611.50,389.74 L611.97,389.75 L612.43,389.77 L612.90,389.79 L613.36,389.81 L613.83,389.83 L614.30,389.85 L614.76,389.86 L615.23,389.88 L615.69,389.90 L616.16,389.92 L616.62,389.93 L617.09,389.95 L617.56,389.97 L618.02,389.98 L618.49,390.00 L618.95,390.02 L619.42,390.03 L619.89,390.05 L620.35,390.07 L620.82,390.08 L621.28,390.10 L621.75,390.12 L622.21,390.13 L622.68,390.15 L623.15,390.16 L623.61,390.18 L624.08,390.19 L624.54,390.21 L625.01,390.22 L625.47,390.24 L625.94,390.26 L626.41,390.27 L626.87,390.29 L627.34,390.30 L627.80,390.31 L628.27,390.33 L628.74,390.34 L629.20,390.36 L629.67,390.37 L630.13,390.39 L630.60,390.40 L631.06,390.42 L631.53,390.43 L632.00,390.44 L632.46,390.46 L632.93,390.47 L633.39,390.48 L633.86,390.50 L634.33,390.51 L634.79,390.52 L635.26,390.54 L635.72,390.55 L636.19,390.56 L636.65,390.58 L637.12,390.59 L637.59,390.60 L638.05,390.62 L638.52,390.63 L638.98,390.64 L639.45,390.65 L639.91,390.67 L640.38,390.68 L640.85,390.69 L641.31,390.70 L641.78,390.71 L642.24,390.73 L642.71,390.74 L643.18,390.75 L643.64,390.76 L644.11,390.77 L644.57,390.79 L645.04,390.80 L645.50,390.81 L645.97,390.82 L646.44,390.83 L646.90,390.84 L647.37,390.85 L647.83,390.86 L648.30,390.87 L648.77,390.89 L649.23,390.90 L649.70,390.91 L650.16,390.92 L650.63,390.93 L651.09,390.94 L651.56,390.95 L652.03,390.96 L652.49,390.97 L652.96,390.98 L653.42,390.99 L653.89,391.00 L654.35,391.01 L654.82,391.02 L655.29,391.03 L655.75,391.04 L656.22,391.05 L656.68,391.06 L657.15,391.07 L657.62,391.08 L658.08,391.09 L658.55,391.10 L659.01,391.11 L659.48,391.12 L659.94,391.13 L660.41,391.13 L660.88,391.14 L661.34,391.15 L661.81,391.16 L662.27,391.17 L662.74,391.18 L663.21,391.19 L663.67,391.20 L664.14,391.20 L664.60,391.21 L665.07,391.22 L665.53,391.23 L666.00,391.24"/><path fill="none" stroke="#00ff00" stroke-width="4.4" stroke-linejoin="round" stroke-linecap="butt" d="M107.50,391.65 L107.97,391.62 L108.43,391.58 L108.90,391.55 L109.36,391.51 L109.83,391.48 L110.29,391.44 L110.76,391.41 L111.23,391.37 L111.69,391.33 L112.16,391.29 L112.62,391.25 L113.09,391.21 L113.56,391.17 L114.02,391.13 L114.49,391.09 L114.95,391.04 L115.42,391.00 L115.88,390.96 L116.35,390.91 L116.82,390.86 L117.28,390.82 L117.75,390.77 L118.21,390.72 L118.68,390.67 L119.15,390.62 L119.61,390.56 L120.08,390.51 L120.54,390.45 L121.01,390.40 L121.47,390.34 L121.94,390.28 L122.41,390.23 L122.87,390.17 L123.34,390.10 L123.80,390.04 L124.27,389.98 L124.73,389.91 L125.20,389.85 L125.67,389.78 L126.13,389.71 L126.60,389.64 L127.06,389.57 L127.53,389.49 L128.00,389.42 L128.46,389.34 L128.93,389.27 L129.39,389.19 L129.86,389.11 L130.32,389.02 L130.79,388.94 L131.26,388.85 L131.72,388.77 L132.19,388.68 L132.65,388.59 L133.12,388.49 L133.59,388.40 L134.05,388.30 L134.52,388.20 L134.98,388.10 L135.45,388.00 L135.91,387.90 L136.38,387.79 L136.85,387.68 L137.31,387.57 L137.78,387.46 L138.24,387.34 L138.71,387.22 L139.17,387.10 L139.64,386.98 L140.11,386.86 L140.57,386.73 L141.04,386.60 L141.50,386.47 L141.97,386.33 L142.44,386.19 L142.90,386.05 L143.37,385.91 L143.83,385.76 L144.30,385.61 L144.76,385.46 L145.23,385.30 L145.70,385.14 L146.16,384.98 L146.63,384.82 L147.09,384.65 L147.56,384.47 L148.03,384.30 L148.49,384.12 L148.96,383.94 L149.42,383.75 L149.89,383.56 L150.35,383.37 L150.82,383.17 L151.29,382.97 L151.75,382.76 L152.22,382.55 L152.68,382.33 L153.15,382.12 L153.61,381.89 L154.08,381.67 L154.55,381.43 L155.01,381.20 L155.48,380.96 L155.94,380.71 L156.41,380.46 L156.88,380.20 L157.34,379.94 L157.81,379.67 L158.27,379.40 L158.74,379.12 L159.20,378.84 L159.67,378.55 L160.14,378.26 L160.60,377.96 L161.07,377.66 L161.53,377.34 L162.00,377.03 L162.46,376.70 L162.93,376.37 L163.40,376.04 L163.86,375.69 L164.33,375.34 L164.79,374.99 L165.26,374.62 L165.73,374.25 L166.19,373.88 L166.66,373.49 L167.12,373.10 L167.59,372.70 L168.05,372.29 L168.52,371.88 L168.99,371.46 L169.45,371.03 L169.92,370.59 L170.38,370.14 L170.85,369.69 L171.32,369.22 L171.78,368.75 L172.25,368.27 L172.71,367.78 L173.18,367.28 L173.64,366.77 L174.11,366.26 L174.58,365.73 L175.04,365.19 L175.51,364.65 L175.97,364.09 L176.44,363.53 L176.90,362.95 L177.37,362.37 L177.84,361.77 L178.30,361.16 L178.77,360.55 L179.23,359.92 L179.70,359.28 L180.17,358.63 L180.63,357.97 L181.10,357.30 L181.56,356.61 L182.03,355.91 L182.49,355.21 L182.96,354.49 L183.43,353.76 L183.89,353.01 L184.36,352.26 L184.82,351.49 L185.29,350.71 L185.76,349.91 L186.22,349.10 L186.69,348.28 L187.15,347.45 L187.62,346.60 L188.08,345.74 L188.55,344.87 L189.02,343.98 L189.48,343.08 L189.95,342.17 L190.41,341.24 L190.88,340.29 L191.34,339.33 L191.81,338.36 L192.28,337.37 L192.74,336.37 L193.21,335.35 L193.67,334.31 L194.14,333.26 L194.61,332.20 L195.07,331.11 L195.54,330.02 L196.00,328.90 L196.47,327.77 L196.93,326.62 L197.40,325.46 L197.87,324.27 L198.33,323.07 L198.80,321.86 L199.26,320.62 L199.73,319.37 L200.20,318.09 L200.66,316.80 L201.13,315.49 L201.59,314.16 L202.06,312.81 L202.52,311.44 L202.99,310.05 L203.46,308.64 L203.92,307.21 L204.39,305.75 L204.85,304.28 L205.32,302.78 L205.78,301.27 L206.25,299.72 L206.72,298.16 L207.18,296.57 L207.65,294.96 L208.11,293.32 L208.58,291.66 L209.05,289.97 L209.51,288.26 L209.98,286.52 L210.44,284.76 L210.91,282.96 L211.37,281.14 L211.84,279.29 L212.31,277.41 L212.77,275.51 L213.24,273.57 L213.70,271.60 L214.17,269.60 L214.64,267.56 L215.10,265.50 L215.57,263.40 L216.03,261.26 L216.50,259.09 L216.96,256.88 L217.43,254.64 L217.90,252.36 L218.36,250.04 L218.83,247.68 L219.29,245.28 L219.76,242.84 L220.22,240.36 L220.69,237.84 L221.16,235.27 L221.62,232.66 L222.09,230.00 L222.55,227.29 L223.02,224.54 L223.49,221.73 L223.95,218.88 L224.42,215.98 L224.88,213.03 L225.35,210.02 L225.81,206.96 L226.28,203.84 L226.75,200.68 L227.21,197.45 L227.68,194.17 L228.14,190.83 L228.61,187.44 L229.08,183.99 L229.54,180.48 L230.01,176.92 L230.47,173.31 L230.94,169.64 L231.40,165.92 L231.87,162.16 L232.34,158.34 L232.80,154.49 L233.27,150.58 L233.73,146.64 L234.20,142.65 L234.66,138.64 L235.13,134.58 L235.60,130.51 L236.06,126.40 L236.53,122.28 L236.99,118.13 L237.46,113.98 L237.93,109.82 L238.39,105.66 L238.86,101.50 L239.32,97.36 L239.79,93.23 L240.25,89.12 L240.72,85.05 L241.19,81.02 L241.65,77.03 L242.12,73.09 L242.58,69.21 L243.05,65.41 L243.52,61.68 L243.98,58.04 L244.45,54.49 L244.91,51.05 L245.38,47.71 L245.84,44.50 L246.31,41.42 L246.78,38.47 L247.24,35.67 L247.71,33.02 L248.17,30.53 L248.64,28.21 L249.10,26.06 L249.57,24.09 L250.04,22.31 L250.50,20.72 L250.97,19.32 L251.43,18.13 L251.90,17.13 L252.37,16.34 L252.83,15.76 L253.30,15.38 L253.76,15.21 L254.23,15.25 L254.69,15.49 L255.16,15.94 L255.63,16.60 L256.09,17.45 L256.56,18.49 L257.02,19.73 L257.49,21.15 L257.95,22.75 L258.42,24.53 L258.89,26.47 L259.35,28.58 L259.82,30.84 L260.28,33.24 L260.75,35.79 L261.22,38.46 L261.68,41.25 L262.15,44.17 L262.61,47.18 L263.08,50.30 L263.54,53.51 L264.01,56.79 L264.48,60.16 L264.94,63.59 L265.41,67.08 L265.87,70.62 L266.34,74.20 L266.81,77.83 L267.27,81.48 L267.74,85.16 L268.20,88.86 L268.67,92.57 L269.13,96.29 L269.60,100.02 L270.07,103.74 L270.53,107.45 L271.00,111.15 L271.46,114.84 L271.93,118.51 L272.39,122.15 L272.86,125.77 L273.33,129.37 L273.79,132.93 L274.26,136.45 L274.72,139.95 L275.19,143.40 L275.66,146.81 L276.12,150.18 L276.59,153.51 L277.05,156.80 L277.52,160.04 L277.98,163.23 L278.45,166.38 L278.92,169.48 L279.38,172.54 L279.85,175.55 L280.31,178.52 L280.78,181.43 L281.25,184.31 L281.71,187.14 L282.18,189.92 L282.64,192.66 L283.11,195.35 L283.57,198.00 L284.04,200.61 L284.51,203.18 L284.97,205.70 L285.44,208.19 L285.90,210.63 L286.37,213.03 L286.83,215.40 L287.30,217.72 L287.77,220.01 L288.23,222.26 L288.70,224.47 L289.16,226.65 L289.63,228.79 L290.10,230.90 L290.56,232.97 L291.03,235.01 L291.49,237.02 L291.96,238.99 L292.42,240.94 L292.89,242.85 L293.36,244.73 L293.82,246.59 L294.29,248.41 L294.75,250.21 L295.22,251.98 L295.69,253.72 L296.15,255.44 L296.62,257.13 L297.08,258.79 L297.55,260.43 L298.01,262.05 L298.48,263.64 L298.95,265.21 L299.41,266.75 L299.88,268.28 L300.34,269.78 L300.81,271.26 L301.27,272.72 L301.74,274.16 L302.21,275.57 L302.67,276.97 L303.14,278.35 L303.60,279.72 L304.07,281.06 L304.54,282.38 L305.00,283.69 L305.47,284.98 L305.93,286.25 L306.40,287.51 L306.86,288.75 L307.33,289.97 L307.80,291.18 L308.26,292.37 L308.73,293.55 L309.19,294.72 L309.66,295.86 L310.13,297.00 L310.59,298.12 L311.06,299.23 L311.52,300.32 L311.99,301.40 L312.45,302.46 L312.92,303.52 L313.39,304.56 L313.85,305.58 L314.32,306.60 L314.78,307.60 L315.25,308.58 L315.71,309.56 L316.18,310.52 L316.65,311.47 L317.11,312.41 L317.58,313.33 L318.04,314.25 L318.51,315.15 L318.98,316.04 L319.44,316.92 L319.91,317.79 L320.37,318.64 L320.84,319.49 L321.30,320.32 L321.77,321.15 L322.24,321.96 L322.70,322.76 L323.17,323.55 L323.63,324.33 L324.10,325.10 L324.57,325.86 L325.03,326.61 L325.50,327.36 L325.96,328.09 L326.43,328.81 L326.89,329.52 L327.36,330.22 L327.83,330.92 L328.29,331.60 L328.76,332.28 L329.22,332.94 L329.69,333.60 L330.15,334.25 L330.62,334.89 L331.09,335.52 L331.55,336.14 L332.02,336.76 L332.48,337.37 L332.95,337.97 L333.42,338.56 L333.88,339.14 L334.35,339.72 L334.81,340.29 L335.28,340.85 L335.74,341.40 L336.21,341.95 L336.68,342.49 L337.14,343.02 L337.61,343.55 L338.07,344.07 L338.54,344.58 L339.01,345.08 L339.47,345.58 L339.94,346.07 L340.40,346.56 L340.87,347.04 L341.33,347.51 L341.80,347.98 L342.27,348.44 L342.73,348.89 L343.20,349.34 L343.66,349.79 L344.13,350.23 L344.59,350.66 L345.06,351.08 L345.53,351.51 L345.99,351.92 L346.46,352.33 L346.92,352.74 L347.39,353.14 L347.86,353.53 L348.32,353.92 L348.79,354.31 L349.25,354.69 L349.72,355.06 L350.18,355.43 L350.65,355.80 L351.12,356.16 L351.58,356.52 L352.05,356.87 L352.51,357.22 L352.98,357.56 L353.44,357.90 L353.91,358.23 L354.38,358.56 L354.84,358.89 L355.31,359.21 L355.77,359.53 L356.24,359.85 L356.71,360.16 L357.17,360.47 L357.64,360.77 L358.10,361.07 L358.57,361.36 L359.03,361.66 L359.50,361.94 L359.97,362.23 L360.43,362.51 L360.90,362.79 L361.36,363.06 L361.83,363.34 L362.30,363.60 L362.76,363.87 L363.23,364.13 L363.69,364.39 L364.16,364.64 L364.62,364.90 L365.09,365.15 L365.56,365.39 L366.02,365.64 L366.49,365.88 L366.95,366.11 L367.42,366.35 L367.88,366.58 L368.35,366.81 L368.82,367.04 L369.28,367.26 L369.75,367.48 L370.21,367.70 L370.68,367.92 L371.15,368.13 L371.61,368.34 L372.08,368.55 L372.54,368.76 L373.01,368.96 L373.47,369.16 L373.94,369.36 L374.41,369.56 L374.87,369.76 L375.34,369.95 L375.80,370.14 L376.27,370.33 L376.74,370.51 L377.20,370.70 L377.67,370.88 L378.13,371.06 L378.60,371.24 L379.06,371.41 L379.53,371.58 L380.00,371.76 L380.46,371.93 L380.93,372.09 L381.39,372.26 L381.86,372.43 L382.32,372.59 L382.79,372.75 L383.26,372.91 L383.72,373.06 L384.19,373.22 L384.65,373.37 L385.12,373.53 L385.59,373.68 L386.05,373.83 L386.52,373.97 L386.98,374.12 L387.45,374.26 L387.91,374.41 L388.38,374.55 L388.85,374.69 L389.31,374.82 L389.78,374.96 L390.24,375.10 L390.71,375.23 L391.18,375.36 L391.64,375.49 L392.11,375.62 L392.57,375.75 L393.04,375.88 L393.50,376.00 L393.97,376.13 L394.44,376.25 L394.90,376.37 L395.37,376.50 L395.83,376.61 L396.30,376.73 L396.76,376.85 L397.23,376.97 L397.70,377.08 L398.16,377.19 L398.63,377.31 L399.09,377.42 L399.56,377.53 L400.03,377.64 L400.49,377.74 L400.96,377.85 L401.42,377.96 L401.89,378.06 L402.35,378.17 L402.82,378.27 L403.29,378.37 L403.75,378.47 L404.22,378.57 L404.68,378.67 L405.15,378.77 L405.62,378.86 L406.08,378.96 L406.55,379.06 L407.01,379.15 L407.48,379.24 L407.94,379.34 L408.41,379.43 L408.88,379.52 L409.34,379.61 L409.81,379.70 L410.27,379.78 L410.74,379.87 L411.20,379.96 L411.67,380.04 L412.14,380.13 L412.60,380.21 L413.07,380.30 L413.53,380.38 L414.00,380.46 L414.47,380.54 L414.93,380.62 L415.40,380.70 L415.86,380.78 L416.33,380.86 L416.79,380.93 L417.26,381.01 L417.73,381.09 L418.19,381.16 L418.66,381.24 L419.12,381.31 L419.59,381.38 L420.06,381.46 L420.52,381.53 L420.99,381.60 L421.45,381.67 L421.92,381.74 L422.38,381.81 L422.85,381.88 L423.32,381.95 L423.78,382.01 L424.25,382.08 L424.71,382.15 L425.18,382.21 L425.64,382.28 L426.11,382.34 L426.58,382.41 L427.04,382.47 L427.51,382.53 L427.97,382.60 L428.44,382.66 L428.91,382.72 L429.37,382.78 L429.84,382.84 L430.30,382.90 L430.77,382.96 L431.23,383.02 L431.70,383.08 L432.17,383.14 L432.63,383.19 L433.10,383.25 L433.56,383.31 L434.03,383.36 L434.49,383.42 L434.96,383.47 L435.43,383.53 L435.89,383.58 L436.36,383.64 L436.82,383.69 L437.29,383.74 L437.76,383.79 L438.22,383.85 L438.69,383.90 L439.15,383.95 L439.62,384.00 L440.08,384.05 L440.55,384.10 L441.02,384.15 L441.48,384.20 L441.95,384.25 L442.41,384.29 L442.88,384.34 L443.35,384.39 L443.81,384.44 L444.28,384.48 L444.74,384.53 L445.21,384.58 L445.67,384.62 L446.14,384.67 L446.61,384.71 L447.07,384.76 L447.54,384.80 L448.00,384.84 L448.47,384.89 L448.93,384.93 L449.40,384.97 L449.87,385.02 L450.33,385.06 L450.80,385.10 L451.26,385.14 L451.73,385.18 L452.20,385.22 L452.66,385.26 L453.13,385.30 L453.59,385.34 L454.06,385.38 L454.52,385.42 L454.99,385.46 L455.46,385.50 L455.92,385.54 L456.39,385.58 L456.85,385.62 L457.32,385.65 L457.79,385.69 L458.25,385.73 L458.72,385.76 L459.18,385.80 L459.65,385.84 L460.11,385.87 L460.58,385.91 L461.05,385.94 L461.51,385.98 L461.98,386.01 L462.44,386.05 L462.91,386.08 L463.37,386.12 L463.84,386.15 L464.31,386.18 L464.77,386.22 L465.24,386.25 L465.70,386.28 L466.17,386.32 L466.64,386.35 L467.10,386.38 L467.57,386.41 L468.03,386.44 L468.50,386.48 L468.96,386.51 L469.43,386.54 L469.90,386.57 L470.36,386.60 L470.83,386.63 L471.29,386.66 L471.76,386.69 L472.23,386.72 L472.69,386.75 L473.16,386.78 L473.62,386.81 L474.09,386.84 L474.55,386.86 L475.02,386.89 L475.49,386.92 L475.95,386.95 L476.42,386.98 L476.88,387.00 L477.35,387.03 L477.81,387.06 L478.28,387.09 L478.75,387.11 L479.21,387.14 L479.68,387.17 L480.14,387.19 L480.61,387.22 L481.08,387.24 L481.54,387.27 L482.01,387.30 L482.47,387.32 L482.94,387.35 L483.40,387.37 L483.87,387.40 L484.34,387.42 L484.80,387.45 L485.27,387.47 L485.73,387.49 L486.20,387.52 L486.67,387.54 L487.13,387.57 L487.60,387.59 L488.06,387.61 L488.53,387.64 L488.99,387.66 L489.46,387.68 L489.93,387.71 L490.39,387.73 L490.86,387.75 L491.32,387.77 L491.79,387.79 L492.25,387.82 L492.72,387.84 L493.19,387.86 L493.65,387.88 L494.12,387.90 L494.58,387.92 L495.05,387.95 L495.52,387.97 L495.98,387.99 L496.45,388.01 L496.91,388.03 L497.38,388.05 L497.84,388.07 L498.31,388.09 L498.78,388.11 L499.24,388.13 L499.71,388.15 L500.17,388.17 L500.64,388.19 L501.11,388.21 L501.57,388.23 L502.04,388.25 L502.50,388.27 L502.97,388.29 L503.43,388.30 L503.90,388.32 L504.37,388.34 L504.83,388.36 L505.30,388.38 L505.76,388.40 L506.23,388.42 L506.69,388.43 L507.16,388.45 L507.63,388.47 L508.09,388.49 L508.56,388.50 L509.02,388.52 L509.49,388.54 L509.96,388.56 L510.42,388.57 L510.89,388.59 L511.35,388.61 L511.82,388.62 L512.28,388.64 L512.75,388.66 L513.22,388.67 L513.68,388.69 L514.15,388.71 L514.61,388.72 L515.08,388.74 L515.55,388.75 L516.01,388.77 L516.48,388.79 L516.94,388.80 L517.41,388.82 L517.87,388.83 L518.34,388.85 L518.81,388.86 L519.27,388.88 L519.74,388.89 L520.20,388.91 L520.67,388.92 L521.13,388.94 L521.60,388.95 L522.07,388.97 L522.53,388.98 L523.00,389.00 L523.46,389.01 L523.93,389.03 L524.40,389.04 L524.86,389.05 L525.33,389.07 L525.79,389.08 L526.26,389.10 L526.72,389.11 L527.19,389.12 L527.66,389.14 L528.12,389.15 L528.59,389.16 L529.05,389.18 L529.52,389.19 L529.98,389.20 L530.45,389.22 L530.92,389.23 L531.38,389.24 L531.85,389.26 L532.31,389.27 L532.78,389.28 L533.25,389.29 L533.71,389.31 L534.18,389.32 L534.64,389.33 L535.11,389.34 L535.57,389.36 L536.04,389.37 L536.51,389.38 L536.97,389.39 L537.44,389.40 L537.90,389.42 L538.37,389.43 L538.84,389.44 L539.30,389.45 L539.77,389.46 L540.23,389.47 L540.70,389.49 L541.16,389.50 L541.63,389.51 L542.10,389.52 L542.56,389.53 L543.03,389.54 L543.49,389.55 L543.96,389.56 L544.42,389.58 L544.89,389.59 L545.36,389.60 L545.82,389.61 L546.29,389.62 L546.75,389.63 L547.22,389.64 L547.69,389.65 L548.15,389.66 L548.62,389.67 L549.08,389.68 L549.55,389.69 L550.01,389.70 L550.48,389.71 L550.95,389.72 L551.41,389.73 L551.88,389.74 L552.34,389.75 L552.81,389.76 L553.28,389.77 L553.74,389.78 L554.21,389.79 L554.67,389.80 L555.14,389.81 L555.60,389.82 L556.07,389.83 L556.54,389.84 L557.00,389.85 L557.47,389.86 L557.93,389.87 L558.40,389.88 L558.86,389.88 L559.33,389.89 L559.80,389.90 L560.26,389.91 L560.73,389.92 L561.19,389.93 L561.66,389.94 L562.13,389.95 L562.59,389.96 L563.06,389.96 L563.52,389.97 L563.99,389.98 L564.45,389.99 L564.92,390.00 L565.39,390.01 L565.85,390.02 L566.32,390.02 L566.78,390.03 L567.25,390.04 L567.72,390.05 L568.18,390.06 L568.65,390.06 L569.11,390.07 L569.58,390.08 L570.04,390.09 L570.51,390.10 L570.98,390.10 L571.44,390.11 L571.91,390.12 L572.37,390.13 L572.84,390.14 L573.30,390.14 L573.77,390.15 L574.24,390.16 L574.70,390.17 L575.17,390.17 L575.63,390.18 L576.10,390.19 L576.57,390.20 L577.03,390.20 L577.50,390.21 L577.96,390.22 L578.43,390.22 L578.89,390.23 L579.36,390.24 L579.83,390.25 L580.29,390.25 L580.76,390.26 L581.22,390.27 L581.69,390.27 L582.16,390.28 L582.62,390.29 L583.09,390.29 L583.55,390.30 L584.02,390.31 L584.48,390.31 L584.95,390.32 L585.42,390.33 L585.88,390.33 L586.35,390.34 L586.81,390.35 L587.28,390.35 L587.74,390.36 L588.21,390.36 L588.68,390.37 L589.14,390.38 L589.61,390.38 L590.07,390.39 L590.54,390.40 L591.01,390.40 L591.47,390.41 L591.94,390.41 L592.40,390.42 L592.87,390.43 L593.33,390.43 L593.80,390.44 L594.27,390.44 L594.73,390.45 L595.20,390.45 L595.66,390.46 L596.13,390.47 L596.60,390.47 L597.06,390.48 L597.53,390.48 L597.99,390.49 L598.46,390.49 L598.92,390.50 L599.39,390.50 L599.86,390.51 L600.32,390.52 L600.79,390.52 L601.25,390.53 L601.72,390.53 L602.18,390.54 L602.65,390.54 L603.12,390.55 L603.58,390.55 L604.05,390.56 L604.51,390.56 L604.98,390.57 L605.45,390.57 L605.91,390.58 L606.38,390.58 L606.84,390.59 L607.31,390.59 L607.77,390.60 L608.24,390.60 L608.71,390.61 L609.17,390.61 L609.64,390.62 L610.10,390.62 L610.57,390.63 L611.04,390.63 L611.50,390.64 L611.97,390.64 L612.43,390.64 L612.90,390.65 L613.36,390.65 L613.83,390.66 L614.30,390.66 L614.76,390.67 L615.23,390.67 L615.69,390.68 L616.16,390.68 L616.62,390.68 L617.09,390.69 L617.56,390.69 L618.02,390.70 L618.49,390.70 L618.95,390.71 L619.42,390.71 L619.89,390.71 L620.35,390.72 L620.82,390.72 L621.28,390.73 L621.75,390.73 L622.21,390.73 L622.68,390.74 L623.15,390.74 L623.61,390.75 L624.08,390.75 L624.54,390.75 L625.01,390.76 L625.47,390.76 L625.94,390.77 L626.41,390.77 L626.87,390.77 L627.34,390.78 L627.80,390.78 L628.27,390.78 L628.74,390.79 L629.20,390.79 L629.67,390.79 L630.13,390.80 L630.60,390.80 L631.06,390.80 L631.53,390.81 L632.00,390.81 L632.46,390.82 L632.93,390.82 L633.39,390.82 L633.86,390.83 L634.33,390.83 L634.79,390.83 L635.26,390.83 L635.72,390.84 L636.19,390.84 L636.65,390.84 L637.12,390.85 L637.59,390.85 L638.05,390.85 L638.52,390.86 L638.98,390.86 L639.45,390.86 L639.91,390.87 L640.38,390.87 L640.85,390.87 L641.31,390.88 L641.78,390.88 L642.24,390.88 L642.71,390.88 L643.18,390.89 L643.64,390.89 L644.11,390.89 L644.57,390.90 L645.04,390.90 L645.50,390.90 L645.97,390.90 L646.44,390.91 L646.90,390.91 L647.37,390.91 L647.83,390.91 L648.30,390.92 L648.77,390.92 L649.23,390.92 L649.70,390.92 L650.16,390.93 L650.63,390.93 L651.09,390.93 L651.56,390.93 L652.03,390.94 L652.49,390.94 L652.96,390.94 L653.42,390.94 L653.89,390.95 L654.35,390.95 L654.82,390.95 L655.29,390.95 L655.75,390.95 L656.22,390.96 L656.68,390.96 L657.15,390.96 L657.62,390.96 L658.08,390.97 L658.55,390.97 L659.01,390.97 L659.48,390.97 L659.94,390.97 L660.41,390.98 L660.88,390.98 L661.34,390.98 L661.81,390.98 L662.27,390.98 L662.74,390.99 L663.21,390.99 L663.67,390.99 L664.14,390.99 L664.60,390.99 L665.07,390.99 L665.53,391.00 L666.00,391.00"/><path fill="none" stroke="#0000ff" stroke-width="4.4" stroke-linejoin="round" stroke-linecap="butt" d="M107.50,389.40 L107.97,389.36 L108.43,389.31 L108.90,389.26 L109.36,389.21 L109.83,389.16 L110.29,389.11 L110.76,389.05 L111.23,389.00 L111.69,388.95 L112.16,388.89 L112.62,388.84 L113.09,388.78 L113.56,388.72 L114.02,388.66 L114.49,388.61 L114.95,388.55 L115.42,388.48 L115.88,388.42 L116.35,388.36 L116.82,388.30 L117.28,388.23 L117.75,388.16 L118.21,388.10 L118.68,388.03 L119.15,387.96 L119.61,387.89 L120.08,387.82 L120.54,387.75 L121.01,387.67 L121.47,387.60 L121.94,387.52 L122.41,387.45 L122.87,387.37 L123.34,387.29 L123.80,387.21 L124.27,387.12 L124.73,387.04 L125.20,386.95 L125.67,386.87 L126.13,386.78 L126.60,386.69 L127.06,386.60 L127.53,386.51 L128.00,386.41 L128.46,386.32 L128.93,386.22 L129.39,386.12 L129.86,386.02 L130.32,385.92 L130.79,385.82 L131.26,385.71 L131.72,385.60 L132.19,385.49 L132.65,385.38 L133.12,385.27 L133.59,385.16 L134.05,385.04 L134.52,384.92 L134.98,384.80 L135.45,384.68 L135.91,384.55 L136.38,384.43 L136.85,384.30 L137.31,384.16 L137.78,384.03 L138.24,383.89 L138.71,383.76 L139.17,383.61 L139.64,383.47 L140.11,383.33 L140.57,383.18 L141.04,383.03 L141.50,382.87 L141.97,382.71 L142.44,382.56 L142.90,382.39 L143.37,382.23 L143.83,382.06 L144.30,381.89 L144.76,381.71 L145.23,381.54 L145.70,381.36 L146.16,381.17 L146.63,380.99 L147.09,380.80 L147.56,380.60 L148.03,380.40 L148.49,380.20 L148.96,380.00 L149.42,379.79 L149.89,379.58 L150.35,379.36 L150.82,379.14 L151.29,378.92 L151.75,378.69 L152.22,378.46 L152.68,378.22 L153.15,377.98 L153.61,377.73 L154.08,377.48 L154.55,377.23 L155.01,376.97 L155.48,376.70 L155.94,376.43 L156.41,376.16 L156.88,375.88 L157.34,375.59 L157.81,375.30 L158.27,375.01 L158.74,374.71 L159.20,374.40 L159.67,374.09 L160.14,373.77 L160.60,373.44 L161.07,373.11 L161.53,372.77 L162.00,372.43 L162.46,372.08 L162.93,371.72 L163.40,371.36 L163.86,370.99 L164.33,370.61 L164.79,370.23 L165.26,369.83 L165.73,369.44 L166.19,369.03 L166.66,368.61 L167.12,368.19 L167.59,367.76 L168.05,367.32 L168.52,366.87 L168.99,366.41 L169.45,365.95 L169.92,365.48 L170.38,364.99 L170.85,364.50 L171.32,364.00 L171.78,363.49 L172.25,362.97 L172.71,362.43 L173.18,361.89 L173.64,361.34 L174.11,360.78 L174.58,360.21 L175.04,359.62 L175.51,359.03 L175.97,358.42 L176.44,357.80 L176.90,357.17 L177.37,356.53 L177.84,355.88 L178.30,355.21 L178.77,354.54 L179.23,353.84 L179.70,353.14 L180.17,352.42 L180.63,351.69 L181.10,350.95 L181.56,350.19 L182.03,349.42 L182.49,348.63 L182.96,347.83 L183.43,347.01 L183.89,346.18 L184.36,345.34 L184.82,344.48 L185.29,343.60 L185.76,342.71 L186.22,341.80 L186.69,340.88 L187.15,339.93 L187.62,338.97 L188.08,338.00 L188.55,337.00 L189.02,335.99 L189.48,334.96 L189.95,333.91 L190.41,332.84 L190.88,331.75 L191.34,330.64 L191.81,329.51 L192.28,328.36 L192.74,327.19 L193.21,325.99 L193.67,324.77 L194.14,323.53 L194.61,322.27 L195.07,320.98 L195.54,319.66 L196.00,318.32 L196.47,316.96 L196.93,315.57 L197.40,314.15 L197.87,312.70 L198.33,311.22 L198.80,309.71 L199.26,308.18 L199.73,306.61 L200.20,305.01 L200.66,303.38 L201.13,301.72 L201.59,300.02 L202.06,298.28 L202.52,296.51 L202.99,294.71 L203.46,292.86 L203.92,290.98 L204.39,289.06 L204.85,287.09 L205.32,285.08 L205.78,283.04 L206.25,280.94 L206.72,278.80 L207.18,276.61 L207.65,274.38 L208.11,272.10 L208.58,269.76 L209.05,267.38 L209.51,264.94 L209.98,262.44 L210.44,259.89 L210.91,257.29 L211.37,254.62 L211.84,251.89 L212.31,249.10 L212.77,246.25 L213.24,243.34 L213.70,240.35 L214.17,237.30 L214.64,234.18 L215.10,230.99 L215.57,227.72 L216.03,224.38 L216.50,220.97 L216.96,217.48 L217.43,213.91 L217.90,210.26 L218.36,206.53 L218.83,202.72 L219.29,198.83 L219.76,194.85 L220.22,190.79 L220.69,186.65 L221.16,182.42 L221.62,178.12 L222.09,173.72 L222.55,169.25 L223.02,164.70 L223.49,160.07 L223.95,155.37 L224.42,150.60 L224.88,145.75 L225.35,140.85 L225.81,135.89 L226.28,130.87 L226.75,125.81 L227.21,120.71 L227.68,115.57 L228.14,110.41 L228.61,105.24 L229.08,100.07 L229.54,94.90 L230.01,89.75 L230.47,84.64 L230.94,79.58 L231.40,74.57 L231.87,69.65 L232.34,64.82 L232.80,60.10 L233.27,55.52 L233.73,51.08 L234.20,46.81 L234.66,42.74 L235.13,38.87 L235.60,35.22 L236.06,31.83 L236.53,28.70 L236.99,25.85 L237.46,23.31 L237.93,21.09 L238.39,19.21 L238.86,17.67 L239.32,16.49 L239.79,15.69 L240.25,15.27 L240.72,15.23 L241.19,15.59 L241.65,16.33 L242.12,17.46 L242.58,18.98 L243.05,20.87 L243.52,23.12 L243.98,25.73 L244.45,28.67 L244.91,31.92 L245.38,35.47 L245.84,39.30 L246.31,43.38 L246.78,47.69 L247.24,52.21 L247.71,56.92 L248.17,61.78 L248.64,66.78 L249.10,71.90 L249.57,77.11 L250.04,82.39 L250.50,87.72 L250.97,93.08 L251.43,98.46 L251.90,103.83 L252.37,109.18 L252.83,114.51 L253.30,119.79 L253.76,125.01 L254.23,130.17 L254.69,135.25 L255.16,140.25 L255.63,145.16 L256.09,149.98 L256.56,154.71 L257.02,159.34 L257.49,163.89 L257.95,168.33 L258.42,172.68 L258.89,176.94 L259.35,181.10 L259.82,185.17 L260.28,189.14 L260.75,193.03 L261.22,196.83 L261.68,200.53 L262.15,204.16 L262.61,207.70 L263.08,211.16 L263.54,214.53 L264.01,217.83 L264.48,221.06 L264.94,224.21 L265.41,227.29 L265.87,230.30 L266.34,233.24 L266.81,236.12 L267.27,238.93 L267.74,241.68 L268.20,244.37 L268.67,247.00 L269.13,249.58 L269.60,252.10 L270.07,254.57 L270.53,256.99 L271.00,259.36 L271.46,261.68 L271.93,263.96 L272.39,266.19 L272.86,268.37 L273.33,270.52 L273.79,272.62 L274.26,274.68 L274.72,276.70 L275.19,278.69 L275.66,280.63 L276.12,282.54 L276.59,284.41 L277.05,286.24 L277.52,288.04 L277.98,289.80 L278.45,291.52 L278.92,293.22 L279.38,294.88 L279.85,296.50 L280.31,298.10 L280.78,299.66 L281.25,301.19 L281.71,302.69 L282.18,304.17 L282.64,305.61 L283.11,307.02 L283.57,308.41 L284.04,309.77 L284.51,311.10 L284.97,312.41 L285.44,313.69 L285.90,314.94 L286.37,316.17 L286.83,317.38 L287.30,318.56 L287.77,319.72 L288.23,320.86 L288.70,321.97 L289.16,323.07 L289.63,324.14 L290.10,325.19 L290.56,326.22 L291.03,327.23 L291.49,328.22 L291.96,329.20 L292.42,330.15 L292.89,331.08 L293.36,332.00 L293.82,332.90 L294.29,333.79 L294.75,334.65 L295.22,335.50 L295.69,336.34 L296.15,337.16 L296.62,337.96 L297.08,338.75 L297.55,339.52 L298.01,340.28 L298.48,341.03 L298.95,341.76 L299.41,342.48 L299.88,343.18 L300.34,343.87 L300.81,344.55 L301.27,345.22 L301.74,345.87 L302.21,346.52 L302.67,347.15 L303.14,347.77 L303.60,348.38 L304.07,348.98 L304.54,349.57 L305.00,350.14 L305.47,350.71 L305.93,351.27 L306.40,351.81 L306.86,352.35 L307.33,352.88 L307.80,353.40 L308.26,353.91 L308.73,354.41 L309.19,354.90 L309.66,355.39 L310.13,355.87 L310.59,356.33 L311.06,356.79 L311.52,357.25 L311.99,357.69 L312.45,358.13 L312.92,358.56 L313.39,358.98 L313.85,359.40 L314.32,359.81 L314.78,360.21 L315.25,360.60 L315.71,360.99 L316.18,361.38 L316.65,361.75 L317.11,362.12 L317.58,362.49 L318.04,362.85 L318.51,363.20 L318.98,363.55 L319.44,363.89 L319.91,364.22 L320.37,364.55 L320.84,364.88 L321.30,365.20 L321.77,365.52 L322.24,365.83 L322.70,366.13 L323.17,366.43 L323.63,366.73 L324.10,367.02 L324.57,367.31 L325.03,367.59 L325.50,367.87 L325.96,368.14 L326.43,368.41 L326.89,368.68 L327.36,368.94 L327.83,369.20 L328.29,369.46 L328.76,369.71 L329.22,369.95 L329.69,370.20 L330.15,370.44 L330.62,370.67 L331.09,370.90 L331.55,371.13 L332.02,371.36 L332.48,371.58 L332.95,371.80 L333.42,372.02 L333.88,372.23 L334.35,372.44 L334.81,372.65 L335.28,372.85 L335.74,373.05 L336.21,373.25 L336.68,373.45 L337.14,373.64 L337.61,373.83 L338.07,374.02 L338.54,374.20 L339.01,374.39 L339.47,374.57 L339.94,374.74 L340.40,374.92 L340.87,375.09 L341.33,375.26 L341.80,375.43 L342.27,375.60 L342.73,375.76 L343.20,375.92 L343.66,376.08 L344.13,376.24 L344.59,376.39 L345.06,376.55 L345.53,376.70 L345.99,376.85 L346.46,376.99 L346.92,377.14 L347.39,377.28 L347.86,377.42 L348.32,377.56 L348.79,377.70 L349.25,377.84 L349.72,377.97 L350.18,378.10 L350.65,378.23 L351.12,378.36 L351.58,378.49 L352.05,378.62 L352.51,378.74 L352.98,378.86 L353.44,378.98 L353.91,379.10 L354.38,379.22 L354.84,379.34 L355.31,379.45 L355.77,379.57 L356.24,379.68 L356.71,379.79 L357.17,379.90 L357.64,380.01 L358.10,380.12 L358.57,380.22 L359.03,380.33 L359.50,380.43 L359.97,380.53 L360.43,380.64 L360.90,380.74 L361.36,380.83 L361.83,380.93 L362.30,381.03 L362.76,381.12 L363.23,381.22 L363.69,381.31 L364.16,381.40 L364.62,381.49 L365.09,381.58 L365.56,381.67 L366.02,381.76 L366.49,381.85 L366.95,381.93 L367.42,382.02 L367.88,382.10 L368.35,382.18 L368.82,382.27 L369.28,382.35 L369.75,382.43 L370.21,382.51 L370.68,382.58 L371.15,382.66 L371.61,382.74 L372.08,382.81 L372.54,382.89 L373.01,382.96 L373.47,383.04 L373.94,383.11 L374.41,383.18 L374.87,383.25 L375.34,383.32 L375.80,383.39 L376.27,383.46 L376.74,383.53 L377.20,383.60 L377.67,383.66 L378.13,383.73 L378.60,383.79 L379.06,383.86 L379.53,383.92 L380.00,383.99 L380.46,384.05 L380.93,384.11 L381.39,384.17 L381.86,384.23 L382.32,384.29 L382.79,384.35 L383.26,384.41 L383.72,384.47 L384.19,384.52 L384.65,384.58 L385.12,384.64 L385.59,384.69 L386.05,384.75 L386.52,384.80 L386.98,384.86 L387.45,384.91 L387.91,384.96 L388.38,385.02 L388.85,385.07 L389.31,385.12 L389.78,385.17 L390.24,385.22 L390.71,385.27 L391.18,385.32 L391.64,385.37 L392.11,385.42 L392.57,385.47 L393.04,385.51 L393.50,385.56 L393.97,385.61 L394.44,385.65 L394.90,385.70 L395.37,385.74 L395.83,385.79 L396.30,385.83 L396.76,385.88 L397.23,385.92 L397.70,385.96 L398.16,386.01 L398.63,386.05 L399.09,386.09 L399.56,386.13 L400.03,386.17 L400.49,386.21 L400.96,386.26 L401.42,386.30 L401.89,386.33 L402.35,386.37 L402.82,386.41 L403.29,386.45 L403.75,386.49 L404.22,386.53 L404.68,386.57 L405.15,386.60 L405.62,386.64 L406.08,386.68 L406.55,386.71 L407.01,386.75 L407.48,386.78 L407.94,386.82 L408.41,386.85 L408.88,386.89 L409.34,386.92 L409.81,386.96 L410.27,386.99 L410.74,387.02 L411.20,387.06 L411.67,387.09 L412.14,387.12 L412.60,387.15 L413.07,387.18 L413.53,387.22 L414.00,387.25 L414.47,387.28 L414.93,387.31 L415.40,387.34 L415.86,387.37 L416.33,387.40 L416.79,387.43 L417.26,387.46 L417.73,387.49 L418.19,387.52 L418.66,387.55 L419.12,387.57 L419.59,387.60 L420.06,387.63 L420.52,387.66 L420.99,387.69 L421.45,387.71 L421.92,387.74 L422.38,387.77 L422.85,387.79 L423.32,387.82 L423.78,387.85 L424.25,387.87 L424.71,387.90 L425.18,387.92 L425.64,387.95 L426.11,387.97 L426.58,388.00 L427.04,388.02 L427.51,388.05 L427.97,388.07 L428.44,388.10 L428.91,388.12 L429.37,388.14 L429.84,388.17 L430.30,388.19 L430.77,388.21 L431.23,388.24 L431.70,388.26 L432.17,388.28 L432.63,388.30 L433.10,388.33 L433.56,388.35 L434.03,388.37 L434.49,388.39 L434.96,388.41 L435.43,388.43 L435.89,388.45 L436.36,388.48 L436.82,388.50 L437.29,388.52 L437.76,388.54 L438.22,388.56 L438.69,388.58 L439.15,388.60 L439.62,388.62 L440.08,388.64 L440.55,388.66 L441.02,388.68 L441.48,388.69 L441.95,388.71 L442.41,388.73 L442.88,388.75 L443.35,388.77 L443.81,388.79 L444.28,388.81 L444.74,388.82 L445.21,388.84 L445.67,388.86 L446.14,388.88 L446.61,388.90 L447.07,388.91 L447.54,388.93 L448.00,388.95 L448.47,388.96 L448.93,388.98 L449.40,389.00 L449.87,389.01 L450.33,389.03 L450.80,389.05 L451.26,389.06 L451.73,389.08 L452.20,389.10 L452.66,389.11 L453.13,389.13 L453.59,389.14 L454.06,389.16 L454.52,389.17 L454.99,389.19 L455.46,389.20 L455.92,389.22 L456.39,389.23 L456.85,389.25 L457.32,389.26 L457.79,389.28 L458.25,389.29 L458.72,389.31 L459.18,389.32 L459.65,389.34 L460.11,389.35 L460.58,389.36 L461.05,389.38 L461.51,389.39 L461.98,389.41 L462.44,389.42 L462.91,389.43 L463.37,389.45 L463.84,389.46 L464.31,389.47 L464.77,389.49 L465.24,389.50 L465.70,389.51 L466.17,389.52 L466.64,389.54 L467.10,389.55 L467.57,389.56 L468.03,389.57 L468.50,389.59 L468.96,389.60 L469.43,389.61 L469.90,389.62 L470.36,389.63 L470.83,389.65 L471.29,389.66 L471.76,389.67 L472.23,389.68 L472.69,389.69 L473.16,389.70 L473.62,389.72 L474.09,389.73 L474.55,389.74 L475.02,389.75 L475.49,389.76 L475.95,389.77 L476.42,389.78 L476.88,389.79 L477.35,389.80 L477.81,389.81 L478.28,389.82 L478.75,389.83 L479.21,389.85 L479.68,389.86 L480.14,389.87 L480.61,389.88 L481.08,389.89 L481.54,389.90 L482.01,389.91 L482.47,389.92 L482.94,389.93 L483.40,389.94 L483.87,389.94 L484.34,389.95 L484.80,389.96 L485.27,389.97 L485.73,389.98 L486.20,389.99 L486.67,390.00 L487.13,390.01 L487.60,390.02 L488.06,390.03 L488.53,390.04 L488.99,390.05 L489.46,390.06 L489.93,390.06 L490.39,390.07 L490.86,390.08 L491.32,390.09 L491.79,390.10 L492.25,390.11 L492.72,390.12 L493.19,390.12 L493.65,390.13 L494.12,390.14 L494.58,390.15 L495.05,390.16 L495.52,390.16 L495.98,390.17 L496.45,390.18 L496.91,390.19 L497.38,390.20 L497.84,390.20 L498.31,390.21 L498.78,390.22 L499.24,390.23 L499.71,390.23 L500.17,390.24 L500.64,390.25 L501.11,390.26 L501.57,390.26 L502.04,390.27 L502.50,390.28 L502.97,390.29 L503.43,390.29 L503.90,390.30 L504.37,390.31 L504.83,390.31 L505.30,390.32 L505.76,390.33 L506.23,390.33 L506.69,390.34 L507.16,390.35 L507.63,390.35 L508.09,390.36 L508.56,390.37 L509.02,390.37 L509.49,390.38 L509.96,390.39 L510.42,390.39 L510.89,390.40 L511.35,390.40 L511.82,390.41 L512.28,390.42 L512.75,390.42 L513.22,390.43 L513.68,390.44 L514.15,390.44 L514.61,390.45 L515.08,390.45 L515.55,390.46 L516.01,390.46 L516.48,390.47 L516.94,390.48 L517.41,390.48 L517.87,390.49 L518.34,390.49 L518.81,390.50 L519.27,390.50 L519.74,390.51 L520.20,390.51 L520.67,390.52 L521.13,390.52 L521.60,390.53 L522.07,390.54 L522.53,390.54 L523.00,390.55 L523.46,390.55 L523.93,390.56 L524.40,390.56 L524.86,390.57 L525.33,390.57 L525.79,390.58 L526.26,390.58 L526.72,390.58 L527.19,390.59 L527.66,390.59 L528.12,390.60 L528.59,390.60 L529.05,390.61 L529.52,390.61 L529.98,390.62 L530.45,390.62 L530.92,390.63 L531.38,390.63 L531.85,390.63 L532.31,390.64 L532.78,390.64 L533.25,390.65 L533.71,390.65 L534.18,390.66 L534.64,390.66 L535.11,390.66 L535.57,390.67 L536.04,390.67 L536.51,390.68 L536.97,390.68 L537.44,390.68 L537.90,390.69 L538.37,390.69 L538.84,390.70 L539.30,390.70 L539.77,390.70 L540.23,390.71 L540.70,390.71 L541.16,390.71 L541.63,390.72 L542.10,390.72 L542.56,390.72 L543.03,390.73 L543.49,390.73 L543.96,390.74 L544.42,390.74 L544.89,390.74 L545.36,390.75 L545.82,390.75 L546.29,390.75 L546.75,390.76 L547.22,390.76 L547.69,390.76 L548.15,390.76 L548.62,390.77 L549.08,390.77 L549.55,390.77 L550.01,390.78 L550.48,390.78 L550.95,390.78 L551.41,390.79 L551.88,390.79 L552.34,390.79 L552.81,390.79 L553.28,390.80 L553.74,390.80 L554.21,390.80 L554.67,390.80 L555.14,390.81 L555.60,390.81 L556.07,390.81 L556.54,390.82 L557.00,390.82 L557.47,390.82 L557.93,390.82 L558.40,390.83 L558.86,390.83 L559.33,390.83 L559.80,390.83 L560.26,390.83 L560.73,390.84 L561.19,390.84 L561.66,390.84 L562.13,390.84 L562.59,390.85 L563.06,390.85 L563.52,390.85 L563.99,390.85 L564.45,390.85 L564.92,390.86 L565.39,390.86 L565.85,390.86 L566.32,390.86 L566.78,390.86 L567.25,390.86 L567.72,390.87 L568.18,390.87 L568.65,390.87 L569.11,390.87 L569.58,390.87 L570.04,390.88 L570.51,390.88 L570.98,390.88 L571.44,390.88 L571.91,390.88 L572.37,390.88 L572.84,390.88 L573.30,390.89 L573.77,390.89 L574.24,390.89 L574.70,390.89 L575.17,390.89 L575.63,390.89 L576.10,390.89 L576.57,390.90 L577.03,390.90 L577.50,390.90 L577.96,390.90 L578.43,390.90 L578.89,390.90 L579.36,390.90 L579.83,390.90 L580.29,390.90 L580.76,390.91 L581.22,390.91 L581.69,390.91 L582.16,390.91 L582.62,390.91 L583.09,390.91 L583.55,390.91 L584.02,390.91 L584.48,390.91 L584.95,390.91 L585.42,390.91 L585.88,390.91 L586.35,390.91 L586.81,390.91 L587.28,390.92 L587.74,390.92 L588.21,390.92 L588.68,390.92 L589.14,390.92 L589.61,390.92 L590.07,390.92 L590.54,390.92 L591.01,390.92 L591.47,390.92 L591.94,390.92 L592.40,390.92 L592.87,390.92 L593.33,390.92 L593.80,390.92 L594.27,390.92 L594.73,390.92 L595.20,390.92 L595.66,390.92 L596.13,390.92 L596.60,390.92 L597.06,390.92 L597.53,390.92 L597.99,390.92 L598.46,390.92 L598.92,390.92 L599.39,390.92 L599.86,390.92 L600.32,390.92 L600.79,390.92 L601.25,390.92 L601.72,390.92 L602.18,390.92 L602.65,390.92 L603.12,390.92 L603.58,390.92 L604.05,390.92 L604.51,390.91 L604.98,390.91 L605.45,390.91 L605.91,390.91 L606.38,390.91 L606.84,390.91 L607.31,390.91 L607.77,390.91 L608.24,390.91 L608.71,390.91 L609.17,390.91 L609.64,390.91 L610.10,390.90 L610.57,390.90 L611.04,390.90 L611.50,390.90 L611.97,390.90 L612.43,390.90 L612.90,390.90 L613.36,390.90 L613.83,390.90 L614.30,390.89 L614.76,390.89 L615.23,390.89 L615.69,390.89 L616.16,390.89 L616.62,390.89 L617.09,390.89 L617.56,390.88 L618.02,390.88 L618.49,390.88 L618.95,390.88 L619.42,390.88 L619.89,390.88 L620.35,390.87 L620.82,390.87 L621.28,390.87 L621.75,390.87 L622.21,390.87 L622.68,390.87 L623.15,390.86 L623.61,390.86 L624.08,390.86 L624.54,390.86 L625.01,390.85 L625.47,390.85 L625.94,390.85 L626.41,390.85 L626.87,390.85 L627.34,390.84 L627.80,390.84 L628.27,390.84 L628.74,390.84 L629.20,390.83 L629.67,390.83 L630.13,390.83 L630.60,390.83 L631.06,390.82 L631.53,390.82 L632.00,390.82 L632.46,390.82 L632.93,390.81 L633.39,390.81 L633.86,390.81 L634.33,390.80 L634.79,390.80 L635.26,390.80 L635.72,390.79 L636.19,390.79 L636.65,390.79 L637.12,390.79 L637.59,390.78 L638.05,390.78 L638.52,390.78 L638.98,390.77 L639.45,390.77 L639.91,390.76 L640.38,390.76 L640.85,390.76 L641.31,390.75 L641.78,390.75 L642.24,390.75 L642.71,390.74 L643.18,390.74 L643.64,390.73 L644.11,390.73 L644.57,390.73 L645.04,390.72 L645.50,390.72 L645.97,390.71 L646.44,390.71 L646.90,390.71 L647.37,390.70 L647.83,390.70 L648.30,390.69 L648.77,390.69 L649.23,390.68 L649.70,390.68 L650.16,390.67 L650.63,390.67 L651.09,390.67 L651.56,390.66 L652.03,390.66 L652.49,390.65 L652.96,390.65 L653.42,390.64 L653.89,390.64 L654.35,390.63 L654.82,390.62 L655.29,390.62 L655.75,390.61 L656.22,390.61 L656.68,390.60 L657.15,390.60 L657.62,390.59 L658.08,390.59 L658.55,390.58 L659.01,390.57 L659.48,390.57 L659.94,390.56 L660.41,390.56 L660.88,390.55 L661.34,390.54 L661.81,390.54 L662.27,390.53 L662.74,390.53 L663.21,390.52 L663.67,390.51 L664.14,390.51 L664.60,390.50 L665.07,390.49 L665.53,390.49 L666.00,390.48"/><path fill="none" stroke="#ff8000" stroke-width="4.4" stroke-linejoin="round" stroke-linecap="butt" d="M107.50,386.81 L107.97,386.76 L108.43,386.72 L108.90,386.67 L109.36,386.62 L109.83,386.57 L110.29,386.52 L110.76,386.47 L111.23,386.42 L111.69,386.37 L112.16,386.31 L112.62,386.26 L113.09,386.20 L113.56,386.15 L114.02,386.09 L114.49,386.04 L114.95,385.98 L115.42,385.92 L115.88,385.86 L116.35,385.80 L116.82,385.74 L117.28,385.67 L117.75,385.61 L118.21,385.54 L118.68,385.48 L119.15,385.41 L119.61,385.34 L120.08,385.27 L120.54,385.20 L121.01,385.13 L121.47,385.06 L121.94,384.99 L122.41,384.91 L122.87,384.84 L123.34,384.76 L123.80,384.68 L124.27,384.60 L124.73,384.52 L125.20,384.44 L125.67,384.35 L126.13,384.27 L126.60,384.18 L127.06,384.10 L127.53,384.01 L128.00,383.92 L128.46,383.82 L128.93,383.73 L129.39,383.63 L129.86,383.54 L130.32,383.44 L130.79,383.34 L131.26,383.24 L131.72,383.13 L132.19,383.03 L132.65,382.92 L133.12,382.81 L133.59,382.70 L134.05,382.59 L134.52,382.47 L134.98,382.36 L135.45,382.24 L135.91,382.12 L136.38,382.00 L136.85,381.87 L137.31,381.74 L137.78,381.61 L138.24,381.48 L138.71,381.35 L139.17,381.21 L139.64,381.08 L140.11,380.93 L140.57,380.79 L141.04,380.65 L141.50,380.50 L141.97,380.35 L142.44,380.19 L142.90,380.03 L143.37,379.88 L143.83,379.71 L144.30,379.55 L144.76,379.38 L145.23,379.21 L145.70,379.03 L146.16,378.86 L146.63,378.67 L147.09,378.49 L147.56,378.30 L148.03,378.11 L148.49,377.92 L148.96,377.72 L149.42,377.52 L149.89,377.31 L150.35,377.10 L150.82,376.89 L151.29,376.67 L151.75,376.45 L152.22,376.22 L152.68,375.99 L153.15,375.76 L153.61,375.52 L154.08,375.27 L154.55,375.03 L155.01,374.77 L155.48,374.51 L155.94,374.25 L156.41,373.98 L156.88,373.71 L157.34,373.43 L157.81,373.15 L158.27,372.86 L158.74,372.56 L159.20,372.26 L159.67,371.96 L160.14,371.64 L160.60,371.32 L161.07,371.00 L161.53,370.67 L162.00,370.33 L162.46,369.98 L162.93,369.63 L163.40,369.27 L163.86,368.91 L164.33,368.54 L164.79,368.16 L165.26,367.77 L165.73,367.37 L166.19,366.97 L166.66,366.56 L167.12,366.14 L167.59,365.71 L168.05,365.27 L168.52,364.82 L168.99,364.37 L169.45,363.91 L169.92,363.43 L170.38,362.95 L170.85,362.46 L171.32,361.95 L171.78,361.44 L172.25,360.92 L172.71,360.39 L173.18,359.84 L173.64,359.29 L174.11,358.72 L174.58,358.14 L175.04,357.55 L175.51,356.95 L175.97,356.34 L176.44,355.72 L176.90,355.08 L177.37,354.43 L177.84,353.77 L178.30,353.09 L178.77,352.40 L179.23,351.70 L179.70,350.98 L180.17,350.25 L180.63,349.51 L181.10,348.75 L181.56,347.97 L182.03,347.18 L182.49,346.38 L182.96,345.56 L183.43,344.72 L183.89,343.86 L184.36,342.99 L184.82,342.10 L185.29,341.20 L185.76,340.27 L186.22,339.32 L186.69,338.36 L187.15,337.37 L187.62,336.36 L188.08,335.34 L188.55,334.28 L189.02,333.21 L189.48,332.11 L189.95,330.99 L190.41,329.84 L190.88,328.67 L191.34,327.47 L191.81,326.25 L192.28,324.99 L192.74,323.71 L193.21,322.39 L193.67,321.05 L194.14,319.67 L194.61,318.26 L195.07,316.81 L195.54,315.33 L196.00,313.81 L196.47,312.26 L196.93,310.66 L197.40,309.03 L197.87,307.35 L198.33,305.63 L198.80,303.87 L199.26,302.06 L199.73,300.20 L200.20,298.29 L200.66,296.33 L201.13,294.32 L201.59,292.25 L202.06,290.12 L202.52,287.94 L202.99,285.69 L203.46,283.39 L203.92,281.01 L204.39,278.57 L204.85,276.06 L205.32,273.47 L205.78,270.81 L206.25,268.07 L206.72,265.25 L207.18,262.35 L207.65,259.36 L208.11,256.28 L208.58,253.11 L209.05,249.85 L209.51,246.49 L209.98,243.02 L210.44,239.45 L210.91,235.78 L211.37,231.99 L211.84,228.09 L212.31,224.07 L212.77,219.93 L213.24,215.67 L213.70,211.29 L214.17,206.77 L214.64,202.13 L215.10,197.36 L215.57,192.45 L216.03,187.41 L216.50,182.24 L216.96,176.93 L217.43,171.49 L217.90,165.92 L218.36,160.23 L218.83,154.41 L219.29,148.48 L219.76,142.44 L220.22,136.31 L220.69,130.09 L221.16,123.79 L221.62,117.43 L222.09,111.02 L222.55,104.59 L223.02,98.16 L223.49,91.74 L223.95,85.36 L224.42,79.05 L224.88,72.84 L225.35,66.77 L225.81,60.85 L226.28,55.14 L226.75,49.66 L227.21,44.45 L227.68,39.56 L228.14,35.01 L228.61,30.85 L229.08,27.11 L229.54,23.83 L230.01,21.04 L230.47,18.77 L230.94,17.03 L231.40,15.86 L231.87,15.27 L232.34,15.27 L232.80,15.87 L233.27,17.06 L233.73,18.83 L234.20,21.18 L234.66,24.09 L235.13,27.53 L235.60,31.46 L236.06,35.87 L236.53,40.71 L236.99,45.93 L237.46,51.50 L237.93,57.38 L238.39,63.51 L238.86,69.87 L239.32,76.39 L239.79,83.05 L240.25,89.81 L240.72,96.63 L241.19,103.47 L241.65,110.31 L242.12,117.11 L242.58,123.86 L243.05,130.54 L243.52,137.11 L243.98,143.57 L244.45,149.90 L244.91,156.09 L245.38,162.13 L245.84,168.03 L246.31,173.78 L246.78,179.37 L247.24,184.81 L247.71,190.10 L248.17,195.24 L248.64,200.23 L249.10,205.08 L249.57,209.78 L250.04,214.34 L250.50,218.76 L250.97,223.05 L251.43,227.22 L251.90,231.26 L252.37,235.17 L252.83,238.97 L253.30,242.66 L253.76,246.23 L254.23,249.70 L254.69,253.07 L255.16,256.34 L255.63,259.51 L256.09,262.59 L256.56,265.59 L257.02,268.50 L257.49,271.33 L257.95,274.07 L258.42,276.75 L258.89,279.35 L259.35,281.87 L259.82,284.33 L260.28,286.73 L260.75,289.06 L261.22,291.33 L261.68,293.55 L262.15,295.70 L262.61,297.81 L263.08,299.85 L263.54,301.85 L264.01,303.79 L264.48,305.69 L264.94,307.53 L265.41,309.33 L265.87,311.08 L266.34,312.79 L266.81,314.45 L267.27,316.07 L267.74,317.65 L268.20,319.19 L268.67,320.70 L269.13,322.16 L269.60,323.58 L270.07,324.97 L270.53,326.33 L271.00,327.65 L271.46,328.94 L271.93,330.20 L272.39,331.42 L272.86,332.61 L273.33,333.78 L273.79,334.92 L274.26,336.03 L274.72,337.11 L275.19,338.16 L275.66,339.19 L276.12,340.20 L276.59,341.18 L277.05,342.13 L277.52,343.07 L277.98,343.98 L278.45,344.87 L278.92,345.74 L279.38,346.59 L279.85,347.42 L280.31,348.23 L280.78,349.02 L281.25,349.79 L281.71,350.55 L282.18,351.28 L282.64,352.00 L283.11,352.71 L283.57,353.40 L284.04,354.07 L284.51,354.73 L284.97,355.37 L285.44,356.00 L285.90,356.61 L286.37,357.21 L286.83,357.80 L287.30,358.37 L287.77,358.94 L288.23,359.49 L288.70,360.03 L289.16,360.55 L289.63,361.07 L290.10,361.57 L290.56,362.07 L291.03,362.55 L291.49,363.02 L291.96,363.49 L292.42,363.94 L292.89,364.38 L293.36,364.82 L293.82,365.24 L294.29,365.66 L294.75,366.07 L295.22,366.47 L295.69,366.86 L296.15,367.25 L296.62,367.62 L297.08,367.99 L297.55,368.36 L298.01,368.71 L298.48,369.06 L298.95,369.40 L299.41,369.73 L299.88,370.06 L300.34,370.38 L300.81,370.70 L301.27,371.01 L301.74,371.31 L302.21,371.61 L302.67,371.90 L303.14,372.19 L303.60,372.47 L304.07,372.74 L304.54,373.01 L305.00,373.28 L305.47,373.54 L305.93,373.80 L306.40,374.05 L306.86,374.29 L307.33,374.54 L307.80,374.77 L308.26,375.01 L308.73,375.24 L309.19,375.46 L309.66,375.68 L310.13,375.90 L310.59,376.11 L311.06,376.32 L311.52,376.53 L311.99,376.73 L312.45,376.93 L312.92,377.13 L313.39,377.32 L313.85,377.51 L314.32,377.70 L314.78,377.88 L315.25,378.06 L315.71,378.23 L316.18,378.41 L316.65,378.58 L317.11,378.75 L317.58,378.91 L318.04,379.07 L318.51,379.23 L318.98,379.39 L319.44,379.54 L319.91,379.70 L320.37,379.85 L320.84,379.99 L321.30,380.14 L321.77,380.28 L322.24,380.42 L322.70,380.56 L323.17,380.69 L323.63,380.83 L324.10,380.96 L324.57,381.09 L325.03,381.22 L325.50,381.34 L325.96,381.47 L326.43,381.59 L326.89,381.71 L327.36,381.83 L327.83,381.94 L328.29,382.06 L328.76,382.17 L329.22,382.28 L329.69,382.39 L330.15,382.50 L330.62,382.60 L331.09,382.71 L331.55,382.81 L332.02,382.91 L332.48,383.01 L332.95,383.11 L333.42,383.21 L333.88,383.30 L334.35,383.40 L334.81,383.49 L335.28,383.58 L335.74,383.67 L336.21,383.76 L336.68,383.85 L337.14,383.94 L337.61,384.02 L338.07,384.10 L338.54,384.19 L339.01,384.27 L339.47,384.35 L339.94,384.43 L340.40,384.51 L340.87,384.59 L341.33,384.66 L341.80,384.74 L342.27,384.81 L342.73,384.88 L343.20,384.96 L343.66,385.03 L344.13,385.10 L344.59,385.17 L345.06,385.24 L345.53,385.30 L345.99,385.37 L346.46,385.44 L346.92,385.50 L347.39,385.56 L347.86,385.63 L348.32,385.69 L348.79,385.75 L349.25,385.81 L349.72,385.87 L350.18,385.93 L350.65,385.99 L351.12,386.05 L351.58,386.10 L352.05,386.16 L352.51,386.22 L352.98,386.27 L353.44,386.32 L353.91,386.38 L354.38,386.43 L354.84,386.48 L355.31,386.53 L355.77,386.58 L356.24,386.64 L356.71,386.68 L357.17,386.73 L357.64,386.78 L358.10,386.83 L358.57,386.88 L359.03,386.92 L359.50,386.97 L359.97,387.01 L360.43,387.06 L360.90,387.10 L361.36,387.15 L361.83,387.19 L362.30,387.23 L362.76,387.28 L363.23,387.32 L363.69,387.36 L364.16,387.40 L364.62,387.44 L365.09,387.48 L365.56,387.52 L366.02,387.56 L366.49,387.60 L366.95,387.64 L367.42,387.67 L367.88,387.71 L368.35,387.75 L368.82,387.78 L369.28,387.82 L369.75,387.85 L370.21,387.89 L370.68,387.92 L371.15,387.96 L371.61,387.99 L372.08,388.03 L372.54,388.06 L373.01,388.09 L373.47,388.12 L373.94,388.16 L374.41,388.19 L374.87,388.22 L375.34,388.25 L375.80,388.28 L376.27,388.31 L376.74,388.34 L377.20,388.37 L377.67,388.40 L378.13,388.43 L378.60,388.46 L379.06,388.49 L379.53,388.52 L380.00,388.54 L380.46,388.57 L380.93,388.60 L381.39,388.62 L381.86,388.65 L382.32,388.68 L382.79,388.70 L383.26,388.73 L383.72,388.75 L384.19,388.78 L384.65,388.81 L385.12,388.83 L385.59,388.85 L386.05,388.88 L386.52,388.90 L386.98,388.93 L387.45,388.95 L387.91,388.97 L388.38,389.00 L388.85,389.02 L389.31,389.04 L389.78,389.06 L390.24,389.09 L390.71,389.11 L391.18,389.13 L391.64,389.15 L392.11,389.17 L392.57,389.19 L393.04,389.21 L393.50,389.23 L393.97,389.25 L394.44,389.27 L394.90,389.29 L395.37,389.31 L395.83,389.33 L396.30,389.35 L396.76,389.37 L397.23,389.39 L397.70,389.41 L398.16,389.43 L398.63,389.45 L399.09,389.46 L399.56,389.48 L400.03,389.50 L400.49,389.52 L400.96,389.54 L401.42,389.55 L401.89,389.57 L402.35,389.59 L402.82,389.60 L403.29,389.62 L403.75,389.64 L404.22,389.65 L404.68,389.67 L405.15,389.69 L405.62,389.70 L406.08,389.72 L406.55,389.73 L407.01,389.75 L407.48,389.76 L407.94,389.78 L408.41,389.79 L408.88,389.81 L409.34,389.82 L409.81,389.84 L410.27,389.85 L410.74,389.87 L411.20,389.88 L411.67,389.90 L412.14,389.91 L412.60,389.92 L413.07,389.94 L413.53,389.95 L414.00,389.97 L414.47,389.98 L414.93,389.99 L415.40,390.01 L415.86,390.02 L416.33,390.03 L416.79,390.04 L417.26,390.06 L417.73,390.07 L418.19,390.08 L418.66,390.09 L419.12,390.11 L419.59,390.12 L420.06,390.13 L420.52,390.14 L420.99,390.15 L421.45,390.17 L421.92,390.18 L422.38,390.19 L422.85,390.20 L423.32,390.21 L423.78,390.22 L424.25,390.23 L424.71,390.24 L425.18,390.26 L425.64,390.27 L426.11,390.28 L426.58,390.29 L427.04,390.30 L427.51,390.31 L427.97,390.32 L428.44,390.33 L428.91,390.34 L429.37,390.35 L429.84,390.36 L430.30,390.37 L430.77,390.38 L431.23,390.39 L431.70,390.40 L432.17,390.41 L432.63,390.42 L433.10,390.43 L433.56,390.44 L434.03,390.45 L434.49,390.46 L434.96,390.46 L435.43,390.47 L435.89,390.48 L436.36,390.49 L436.82,390.50 L437.29,390.51 L437.76,390.52 L438.22,390.53 L438.69,390.53 L439.15,390.54 L439.62,390.55 L440.08,390.56 L440.55,390.57 L441.02,390.58 L441.48,390.58 L441.95,390.59 L442.41,390.60 L442.88,390.61 L443.35,390.62 L443.81,390.62 L444.28,390.63 L444.74,390.64 L445.21,390.65 L445.67,390.65 L446.14,390.66 L446.61,390.67 L447.07,390.68 L447.54,390.68 L448.00,390.69 L448.47,390.70 L448.93,390.71 L449.40,390.71 L449.87,390.72 L450.33,390.73 L450.80,390.73 L451.26,390.74 L451.73,390.75 L452.20,390.75 L452.66,390.76 L453.13,390.77 L453.59,390.77 L454.06,390.78 L454.52,390.79 L454.99,390.79 L455.46,390.80 L455.92,390.81 L456.39,390.81 L456.85,390.82 L457.32,390.82 L457.79,390.83 L458.25,390.84 L458.72,390.84 L459.18,390.85 L459.65,390.85 L460.11,390.86 L460.58,390.87 L461.05,390.87 L461.51,390.88 L461.98,390.88 L462.44,390.89 L462.91,390.89 L463.37,390.90 L463.84,390.90 L464.31,390.91 L464.77,390.92 L465.24,390.92 L465.70,390.93 L466.17,390.93 L466.64,390.94 L467.10,390.94 L467.57,390.95 L468.03,390.95 L468.50,390.96 L468.96,390.96 L469.43,390.97 L469.90,390.97 L470.36,390.98 L470.83,390.98 L471.29,390.99 L471.76,390.99 L472.23,391.00 L472.69,391.00 L473.16,391.00 L473.62,391.01 L474.09,391.01 L474.55,391.02 L475.02,391.02 L475.49,391.03 L475.95,391.03 L476.42,391.04 L476.88,391.04 L477.35,391.04 L477.81,391.05 L478.28,391.05 L478.75,391.06 L479.21,391.06 L479.68,391.07 L480.14,391.07 L480.61,391.07 L481.08,391.08 L481.54,391.08 L482.01,391.09 L482.47,391.09 L482.94,391.09 L483.40,391.10 L483.87,391.10 L484.34,391.10 L484.80,391.11 L485.27,391.11 L485.73,391.12 L486.20,391.12 L486.67,391.12 L487.13,391.13 L487.60,391.13 L488.06,391.13 L488.53,391.14 L488.99,391.14 L489.46,391.14 L489.93,391.15 L490.39,391.15 L490.86,391.15 L491.32,391.16 L491.79,391.16 L492.25,391.16 L492.72,391.17 L493.19,391.17 L493.65,391.17 L494.12,391.18 L494.58,391.18 L495.05,391.18 L495.52,391.18 L495.98,391.19 L496.45,391.19 L496.91,391.19 L497.38,391.20 L497.84,391.20 L498.31,391.20 L498.78,391.21 L499.24,391.21 L499.71,391.21 L500.17,391.21 L500.64,391.22 L501.11,391.22 L501.57,391.22 L502.04,391.22 L502.50,391.23 L502.97,391.23 L503.43,391.23 L503.90,391.23 L504.37,391.24 L504.83,391.24 L505.30,391.24 L505.76,391.24 L506.23,391.25 L506.69,391.25 L507.16,391.25 L507.63,391.25 L508.09,391.26 L508.56,391.26 L509.02,391.26 L509.49,391.26 L509.96,391.26 L510.42,391.27 L510.89,391.27 L511.35,391.27 L511.82,391.27 L512.28,391.28 L512.75,391.28 L513.22,391.28 L513.68,391.28 L514.15,391.28 L514.61,391.29 L515.08,391.29 L515.55,391.29 L516.01,391.29 L516.48,391.29 L516.94,391.29 L517.41,391.30 L517.87,391.30 L518.34,391.30 L518.81,391.30 L519.27,391.30 L519.74,391.30 L520.20,391.31 L520.67,391.31 L521.13,391.31 L521.60,391.31 L522.07,391.31 L522.53,391.31 L523.00,391.32 L523.46,391.32 L523.93,391.32 L524.40,391.32 L524.86,391.32 L525.33,391.32 L525.79,391.32 L526.26,391.33 L526.72,391.33 L527.19,391.33 L527.66,391.33 L528.12,391.33 L528.59,391.33 L529.05,391.33 L529.52,391.33 L529.98,391.34 L530.45,391.34 L530.92,391.34 L531.38,391.34 L531.85,391.34 L532.31,391.34 L532.78,391.34 L533.25,391.34 L533.71,391.34 L534.18,391.35 L534.64,391.35 L535.11,391.35 L535.57,391.35 L536.04,391.35 L536.51,391.35 L536.97,391.35 L537.44,391.35 L537.90,391.35 L538.37,391.35 L538.84,391.35 L539.30,391.35 L539.77,391.36 L540.23,391.36 L540.70,391.36 L541.16,391.36 L541.63,391.36 L542.10,391.36 L542.56,391.36 L543.03,391.36 L543.49,391.36 L543.96,391.36 L544.42,391.36 L544.89,391.36 L545.36,391.36 L545.82,391.36 L546.29,391.36 L546.75,391.36 L547.22,391.36 L547.69,391.36 L548.15,391.36 L548.62,391.36 L549.08,391.36 L549.55,391.36 L550.01,391.37 L550.48,391.37 L550.95,391.37 L551.41,391.37 L551.88,391.37 L552.34,391.37 L552.81,391.37 L553.28,391.37 L553.74,391.37 L554.21,391.37 L554.67,391.37 L555.14,391.37 L555.60,391.37 L556.07,391.37 L556.54,391.37 L557.00,391.37 L557.47,391.37 L557.93,391.37 L558.40,391.37 L558.86,391.36 L559.33,391.36 L559.80,391.36 L560.26,391.36 L560.73,391.36 L561.19,391.36 L561.66,391.36 L562.13,391.36 L562.59,391.36 L563.06,391.36 L563.52,391.36 L563.99,391.36 L564.45,391.36 L564.92,391.36 L565.39,391.36 L565.85,391.36 L566.32,391.36 L566.78,391.36 L567.25,391.36 L567.72,391.36 L568.18,391.36 L568.65,391.35 L569.11,391.35 L569.58,391.35 L570.04,391.35 L570.51,391.35 L570.98,391.35 L571.44,391.35 L571.91,391.35 L572.37,391.35 L572.84,391.35 L573.30,391.35 L573.77,391.35 L574.24,391.34 L574.70,391.34 L575.17,391.34 L575.63,391.34 L576.10,391.34 L576.57,391.34 L577.03,391.34 L577.50,391.34 L577.96,391.34 L578.43,391.33 L578.89,391.33 L579.36,391.33 L579.83,391.33 L580.29,391.33 L580.76,391.33 L581.22,391.33 L581.69,391.32 L582.16,391.32 L582.62,391.32 L583.09,391.32 L583.55,391.32 L584.02,391.32 L584.48,391.32 L584.95,391.31 L585.42,391.31 L585.88,391.31 L586.35,391.31 L586.81,391.31 L587.28,391.30 L587.74,391.30 L588.21,391.30 L588.68,391.30 L589.14,391.30 L589.61,391.30 L590.07,391.29 L590.54,391.29 L591.01,391.29 L591.47,391.29 L591.94,391.28 L592.40,391.28 L592.87,391.28 L593.33,391.28 L593.80,391.28 L594.27,391.27 L594.73,391.27 L595.20,391.27 L595.66,391.27 L596.13,391.26 L596.60,391.26 L597.06,391.26 L597.53,391.26 L597.99,391.25 L598.46,391.25 L598.92,391.25 L599.39,391.25 L599.86,391.24 L600.32,391.24 L600.79,391.24 L601.25,391.24 L601.72,391.23 L602.18,391.23 L602.65,391.23 L603.12,391.22 L603.58,391.22 L604.05,391.22 L604.51,391.21 L604.98,391.21 L605.45,391.21 L605.91,391.20 L606.38,391.20 L606.84,391.20 L607.31,391.19 L607.77,391.19 L608.24,391.19 L608.71,391.18 L609.17,391.18 L609.64,391.18 L610.10,391.17 L610.57,391.17 L611.04,391.17 L611.50,391.16 L611.97,391.16 L612.43,391.15 L612.90,391.15 L613.36,391.15 L613.83,391.14 L614.30,391.14 L614.76,391.13 L615.23,391.13 L615.69,391.13 L616.16,391.12 L616.62,391.12 L617.09,391.11 L617.56,391.11 L618.02,391.10 L618.49,391.10 L618.95,391.10 L619.42,391.09 L619.89,391.09 L620.35,391.08 L620.82,391.08 L621.28,391.07 L621.75,391.07 L622.21,391.06 L622.68,391.06 L623.15,391.05 L623.61,391.05 L624.08,391.04 L624.54,391.04 L625.01,391.03 L625.47,391.02 L625.94,391.02 L626.41,391.01 L626.87,391.01 L627.34,391.00 L627.80,391.00 L628.27,390.99 L628.74,390.98 L629.20,390.98 L629.67,390.97 L630.13,390.97 L630.60,390.96 L631.06,390.95 L631.53,390.95 L632.00,390.94 L632.46,390.94 L632.93,390.93 L633.39,390.92 L633.86,390.92 L634.33,390.91 L634.79,390.90 L635.26,390.89 L635.72,390.89 L636.19,390.88 L636.65,390.87 L637.12,390.87 L637.59,390.86 L638.05,390.85 L638.52,390.84 L638.98,390.84 L639.45,390.83 L639.91,390.82 L640.38,390.81 L640.85,390.80 L641.31,390.80 L641.78,390.79 L642.24,390.78 L642.71,390.77 L643.18,390.76 L643.64,390.75 L644.11,390.74 L644.57,390.74 L645.04,390.73 L645.50,390.72 L645.97,390.71 L646.44,390.70 L646.90,390.69 L647.37,390.68 L647.83,390.67 L648.30,390.66 L648.77,390.65 L649.23,390.64 L649.70,390.63 L650.16,390.62 L650.63,390.61 L651.09,390.60 L651.56,390.59 L652.03,390.58 L652.49,390.57 L652.96,390.55 L653.42,390.54 L653.89,390.53 L654.35,390.52 L654.82,390.51 L655.29,390.50 L655.75,390.48 L656.22,390.47 L656.68,390.46 L657.15,390.45 L657.62,390.43 L658.08,390.42 L658.55,390.41 L659.01,390.39 L659.48,390.38 L659.94,390.37 L660.41,390.35 L660.88,390.34 L661.34,390.32 L661.81,390.31 L662.27,390.30 L662.74,390.28 L663.21,390.27 L663.67,390.25 L664.14,390.23 L664.60,390.22 L665.07,390.20 L665.53,390.19 L666.00,390.17"/></g>
<g fill="#000"><g transform="translate(107.50,440.90) scale(1.000,1.040)"><text x="-7.79" y="0" font-size="28">4</text></g><g transform="translate(177.30,440.90) scale(1.000,1.040)"><text x="-7.79" y="0" font-size="28">5</text></g><g transform="translate(247.10,440.90) scale(1.000,1.040)"><text x="-7.79" y="0" font-size="28">6</text></g><g transform="translate(316.90,440.90) scale(1.000,1.040)"><text x="-7.79" y="0" font-size="28">7</text></g><g transform="translate(386.70,440.90) scale(1.000,1.040)"><text x="-7.79" y="0" font-size="28">8</text></g><g transform="translate(456.50,440.90) scale(1.000,1.040)"><text x="-7.79" y="0" font-size="28">9</text></g><g transform="translate(526.30,440.90) scale(1.000,1.040)"><path transform="translate(-15.57,0) scale(0.01367,-0.01314)" d="M763 0L583 0L583 1147Q518 1085 412 1023Q306 961 222 930L222 1104Q373 1175 486 1276Q599 1377 646 1466L763 1466Z"/><text x="0.00" y="0" font-size="28">0</text></g><g transform="translate(596.10,440.90) scale(1.000,1.040)"><path transform="translate(-15.57,0) scale(0.01367,-0.01314)" d="M763 0L583 0L583 1147Q518 1085 412 1023Q306 961 222 930L222 1104Q373 1175 486 1276Q599 1377 646 1466L763 1466Z"/><path transform="translate(0.00,0) scale(0.01367,-0.01314)" d="M763 0L583 0L583 1147Q518 1085 412 1023Q306 961 222 930L222 1104Q373 1175 486 1276Q599 1377 646 1466L763 1466Z"/></g><g transform="translate(665.90,440.90) scale(1.000,1.040)"><path transform="translate(-15.57,0) scale(0.01367,-0.01314)" d="M763 0L583 0L583 1147Q518 1085 412 1023Q306 961 222 930L222 1104Q373 1175 486 1276Q599 1377 646 1466L763 1466Z"/><text x="0.00" y="0" font-size="28">2</text></g><g transform="translate(87.00,399.40) scale(1.000,1.040)"><text x="-38.92" y="0" font-size="28">0.0</text></g><g transform="translate(87.00,324.18) scale(1.000,1.040)"><text x="-38.92" y="0" font-size="28">0.2</text></g><g transform="translate(87.00,248.96) scale(1.000,1.040)"><text x="-38.92" y="0" font-size="28">0.4</text></g><g transform="translate(87.00,173.74) scale(1.000,1.040)"><text x="-38.92" y="0" font-size="28">0.6</text></g><g transform="translate(87.00,98.52) scale(1.000,1.040)"><text x="-38.92" y="0" font-size="28">0.8</text></g><g transform="translate(87.00,23.30) scale(1.000,1.040)"><path transform="translate(-38.92,0) scale(0.01367,-0.01314)" d="M763 0L583 0L583 1147Q518 1085 412 1023Q306 961 222 930L222 1104Q373 1175 486 1276Q599 1377 646 1466L763 1466Z"/><text x="-23.35" y="0" font-size="28">.0</text></g></g>
<g fill="#000"><line x1="463.9" x2="523.9" y1="41.80" y2="41.80" stroke="#000000" stroke-width="4.4" stroke-linecap="round"/><text x="530.5" y="50.90" font-size="27">w<tspan font-size="17.5" dy="6.8">i</tspan><tspan dy="-6.8">=0.2</tspan><tspan font-family="Liberation Serif">&#956;</tspan>m</text><line x1="463.9" x2="523.9" y1="83.60" y2="83.60" stroke="#ff0000" stroke-width="4.4" stroke-linecap="round"/><text x="530.5" y="92.70" font-size="27">w<tspan font-size="17.5" dy="6.8">i</tspan><tspan dy="-6.8">=0.4</tspan><tspan font-family="Liberation Serif">&#956;</tspan>m</text><line x1="463.9" x2="523.9" y1="125.30" y2="125.30" stroke="#00ff00" stroke-width="4.4" stroke-linecap="round"/><text x="530.5" y="134.40" font-size="27">w<tspan font-size="17.5" dy="6.8">i</tspan><tspan dy="-6.8">=0.6</tspan><tspan font-family="Liberation Serif">&#956;</tspan>m</text><line x1="463.9" x2="523.9" y1="167.10" y2="167.10" stroke="#0000ff" stroke-width="4.4" stroke-linecap="round"/><text x="530.5" y="176.20" font-size="27">w<tspan font-size="17.5" dy="6.8">i</tspan><tspan dy="-6.8">=0.8</tspan><tspan font-family="Liberation Serif">&#956;</tspan>m</text><line x1="463.9" x2="523.9" y1="208.90" y2="208.90" stroke="#ff8000" stroke-width="4.4" stroke-linecap="round"/><text x="530.5" y="218.00" font-size="27">w<tspan font-size="17.5" dy="6.8">i</tspan><tspan dy="-6.8">=</tspan><tspan dx="15.02">.0</tspan><tspan font-family="Liberation Serif">&#956;</tspan>m</text><path transform="translate(569.65,218.00) scale(0.01318,-0.01267)" d="M763 0L583 0L583 1147Q518 1085 412 1023Q306 961 222 930L222 1104Q373 1175 486 1276Q599 1377 646 1466L763 1466Z"/></g>
<text transform="translate(387,483.4) scale(1,1.02)" font-size="34.2" text-anchor="middle" fill="#000">Wavelength (<tspan font-family="Liberation Serif" dx="0.5">&#956;</tspan><tspan dx="1.5">m)</tspan></text>
<text transform="translate(30,204) rotate(-90) scale(1.0,1.04)" font-size="34.2" text-anchor="middle" fill="#000">Transmission</text>
</svg></body></html>
